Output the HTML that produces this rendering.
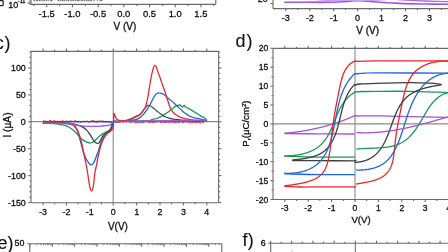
<!DOCTYPE html>
<html><head><meta charset="utf-8"><style>
html,body{margin:0;padding:0;background:#fff;}
body{width:448px;height:252px;overflow:hidden;}
svg{display:block;font-family:"Liberation Sans", sans-serif;will-change:transform;}
svg text{fill:#111;stroke:#111;stroke-width:0.3px;}
</style></head><body>
<svg width="448" height="252" viewBox="0 0 448 252">
<rect width="448" height="252" fill="#fff"/>
<line x1="30" y1="-2" x2="30" y2="4.4" stroke="#6a6a6a" stroke-width="1.1"/>
<line x1="215.8" y1="-2" x2="215.8" y2="4.4" stroke="#6a6a6a" stroke-width="1.1"/>
<line x1="30" y1="4.4" x2="215.8" y2="4.4" stroke="#6a6a6a" stroke-width="1.1"/>
<line x1="31.2" y1="-2" x2="31.2" y2="4.4" stroke="#777" stroke-width="0.9"/>
<rect x="33.4" y="0" width="1.72" height="1.2" fill="#7a7a7a"/>
<rect x="35.76" y="0" width="2.48" height="1.2" fill="#7a7a7a"/>
<rect x="38.82" y="0" width="1.81" height="1.2" fill="#7a7a7a"/>
<rect x="41.28" y="0" width="1.3" height="1.2" fill="#7a7a7a"/>
<rect x="43.19" y="0" width="2.01" height="1.2" fill="#7a7a7a"/>
<rect x="45.97" y="0" width="1.15" height="1.2" fill="#7a7a7a"/>
<rect x="47.6" y="0" width="1.15" height="1.2" fill="#7a7a7a"/>
<rect x="50" y="0" width="2.11" height="1.2" fill="#7a7a7a"/>
<rect x="52.43" y="0" width="0.57" height="1.2" fill="#7a7a7a"/>
<rect x="57.5" y="0" width="2.05" height="1.2" fill="#7a7a7a"/>
<rect x="60.22" y="0" width="1.25" height="1.2" fill="#7a7a7a"/>
<rect x="61.78" y="0" width="1.85" height="1.2" fill="#7a7a7a"/>
<rect x="63.96" y="0" width="1.3" height="1.2" fill="#7a7a7a"/>
<rect x="65.71" y="0" width="1.05" height="1.2" fill="#7a7a7a"/>
<rect x="67.33" y="0" width="1.7" height="1.2" fill="#7a7a7a"/>
<rect x="69.84" y="0" width="1.83" height="1.2" fill="#7a7a7a"/>
<rect x="72.36" y="0" width="1.8" height="1.2" fill="#7a7a7a"/>
<rect x="74.86" y="0" width="1.73" height="1.2" fill="#7a7a7a"/>
<rect x="77.05" y="0" width="2.6" height="1.2" fill="#7a7a7a"/>
<rect x="80.55" y="0" width="2.34" height="1.2" fill="#7a7a7a"/>
<rect x="83.62" y="0" width="1.5" height="1.2" fill="#7a7a7a"/>
<rect x="85.56" y="0" width="1.46" height="1.2" fill="#7a7a7a"/>
<rect x="87.36" y="0" width="2.23" height="1.2" fill="#7a7a7a"/>
<rect x="90.13" y="0" width="1.87" height="1.2" fill="#7a7a7a"/>
<rect x="93.2" y="0" width="1.4" height="1.2" fill="#7a7a7a"/>
<rect x="96.8" y="0" width="1" height="1.2" fill="#7a7a7a"/>
<rect x="99.5" y="0" width="2.46" height="1.2" fill="#7a7a7a"/>
<rect x="102.54" y="0" width="0.46" height="1.2" fill="#7a7a7a"/>
<line x1="46.75" y1="4.4" x2="46.75" y2="7.2" stroke="#6a6a6a" stroke-width="1.1"/>
<text x="46.65" y="16.9" font-size="9.4" text-anchor="middle">-1.5</text>
<line x1="72.45" y1="4.4" x2="72.45" y2="7.2" stroke="#6a6a6a" stroke-width="1.1"/>
<text x="72.35" y="16.9" font-size="9.4" text-anchor="middle">-1.0</text>
<line x1="98.15" y1="4.4" x2="98.15" y2="7.2" stroke="#6a6a6a" stroke-width="1.1"/>
<text x="98.05" y="16.9" font-size="9.4" text-anchor="middle">-0.5</text>
<line x1="123.85" y1="4.4" x2="123.85" y2="7.2" stroke="#6a6a6a" stroke-width="1.1"/>
<text x="123.75" y="16.9" font-size="9.4" text-anchor="middle">0.0</text>
<line x1="149.55" y1="4.4" x2="149.55" y2="7.2" stroke="#6a6a6a" stroke-width="1.1"/>
<text x="149.45" y="16.9" font-size="9.4" text-anchor="middle">0.5</text>
<line x1="175.25" y1="4.4" x2="175.25" y2="7.2" stroke="#6a6a6a" stroke-width="1.1"/>
<text x="175.15" y="16.9" font-size="9.4" text-anchor="middle">1.0</text>
<line x1="200.95" y1="4.4" x2="200.95" y2="7.2" stroke="#6a6a6a" stroke-width="1.1"/>
<text x="200.85" y="16.9" font-size="9.4" text-anchor="middle">1.5</text>
<line x1="33.9" y1="4.4" x2="33.9" y2="6" stroke="#6a6a6a" stroke-width="1.1"/>
<line x1="59.6" y1="4.4" x2="59.6" y2="6" stroke="#6a6a6a" stroke-width="1.1"/>
<line x1="85.3" y1="4.4" x2="85.3" y2="6" stroke="#6a6a6a" stroke-width="1.1"/>
<line x1="111" y1="4.4" x2="111" y2="6" stroke="#6a6a6a" stroke-width="1.1"/>
<line x1="136.7" y1="4.4" x2="136.7" y2="6" stroke="#6a6a6a" stroke-width="1.1"/>
<line x1="162.4" y1="4.4" x2="162.4" y2="6" stroke="#6a6a6a" stroke-width="1.1"/>
<line x1="188.1" y1="4.4" x2="188.1" y2="6" stroke="#6a6a6a" stroke-width="1.1"/>
<line x1="213.8" y1="4.4" x2="213.8" y2="6" stroke="#6a6a6a" stroke-width="1.1"/>
<line x1="27.5" y1="3" x2="30" y2="3" stroke="#6a6a6a" stroke-width="1.1"/>
<text x="8.2" y="7.5" font-size="9" text-anchor="start">10</text>
<text x="17.8" y="2.9" font-size="5.6" text-anchor="start">-11</text>
<text x="124.9" y="29.6" font-size="10" text-anchor="middle">V (V)</text>
<path d="M-1,0.55 H2.2 Q3.2,0.55 3.2,1.8 V4.4 Q3.2,5.7 2.2,5.7 H-1" fill="none" stroke="#222" stroke-width="1.25"/>
<line x1="273" y1="-2" x2="273" y2="8.6" stroke="#6a6a6a" stroke-width="1.1"/>
<line x1="273" y1="8.6" x2="450" y2="8.6" stroke="#6a6a6a" stroke-width="1.1"/>
<line x1="285.75" y1="8.6" x2="285.75" y2="11.2" stroke="#6a6a6a" stroke-width="1.1"/>
<text x="285.75" y="20.9" font-size="9" text-anchor="middle">-3</text>
<line x1="309.7" y1="8.6" x2="309.7" y2="11.2" stroke="#6a6a6a" stroke-width="1.1"/>
<text x="309.7" y="20.9" font-size="9" text-anchor="middle">-2</text>
<line x1="333.65" y1="8.6" x2="333.65" y2="11.2" stroke="#6a6a6a" stroke-width="1.1"/>
<text x="333.65" y="20.9" font-size="9" text-anchor="middle">-1</text>
<line x1="357.6" y1="8.6" x2="357.6" y2="11.2" stroke="#6a6a6a" stroke-width="1.1"/>
<text x="357.6" y="20.9" font-size="9" text-anchor="middle">0</text>
<line x1="381.55" y1="8.6" x2="381.55" y2="11.2" stroke="#6a6a6a" stroke-width="1.1"/>
<text x="381.55" y="20.9" font-size="9" text-anchor="middle">1</text>
<line x1="405.5" y1="8.6" x2="405.5" y2="11.2" stroke="#6a6a6a" stroke-width="1.1"/>
<text x="405.5" y="20.9" font-size="9" text-anchor="middle">2</text>
<line x1="429.45" y1="8.6" x2="429.45" y2="11.2" stroke="#6a6a6a" stroke-width="1.1"/>
<text x="429.45" y="20.9" font-size="9" text-anchor="middle">3</text>
<line x1="297.72" y1="8.6" x2="297.72" y2="10.1" stroke="#6a6a6a" stroke-width="1.1"/>
<line x1="321.67" y1="8.6" x2="321.67" y2="10.1" stroke="#6a6a6a" stroke-width="1.1"/>
<line x1="345.62" y1="8.6" x2="345.62" y2="10.1" stroke="#6a6a6a" stroke-width="1.1"/>
<line x1="369.57" y1="8.6" x2="369.57" y2="10.1" stroke="#6a6a6a" stroke-width="1.1"/>
<line x1="393.52" y1="8.6" x2="393.52" y2="10.1" stroke="#6a6a6a" stroke-width="1.1"/>
<line x1="417.47" y1="8.6" x2="417.47" y2="10.1" stroke="#6a6a6a" stroke-width="1.1"/>
<line x1="441.42" y1="8.6" x2="441.42" y2="10.1" stroke="#6a6a6a" stroke-width="1.1"/>
<line x1="270.4" y1="3.6" x2="273" y2="3.6" stroke="#6a6a6a" stroke-width="1.1"/>
<text x="267.8" y="1.9" font-size="9" text-anchor="end">20</text>
<text x="367.7" y="34.4" font-size="10" text-anchor="middle">V (V)</text>
<path d="M284.8,2.3 C288.17,2.3 299.13,2.28 305,2.3 C310.87,2.32 315.83,2.4 320,2.4 C324.17,2.4 326.67,2.4 330,2.3 C333.33,2.2 336.67,1.98 340,1.8 C343.33,1.62 347.17,1.37 350,1.2 C352.83,1.03 354.67,0.85 357,0.8 C359.33,0.75 361.5,0.77 364,0.9 C366.5,1.03 369.33,1.38 372,1.6 C374.67,1.82 376.67,1.97 380,2.2 C383.33,2.43 388,2.77 392,3 C396,3.23 398.5,3.43 404,3.6 C409.5,3.77 417.5,3.88 425,4 C432.5,4.12 445,4.25 449,4.3" fill="none" stroke="#a055dd" stroke-width="1.6" stroke-linejoin="round" stroke-linecap="round"/>
<path d="M308,1.9 C310,1.78 316.33,1.4 320,1.2 C323.67,1 326.67,0.87 330,0.7 C333.33,0.53 336.67,0.38 340,0.2 C343.33,0.02 348.33,-0.3 350,-0.4" fill="none" stroke="#b888e6" stroke-width="1.2" stroke-linejoin="round" stroke-linecap="round"/>
<path d="M398,-0.5 C400.33,-0.37 407.5,0.05 412,0.3 C416.5,0.55 418.83,0.78 425,1 C431.17,1.22 445,1.5 449,1.6" fill="none" stroke="#a868e0" stroke-width="1.3" stroke-linejoin="round" stroke-linecap="round"/>
<path d="M330,0.8 C332.5,0.73 340.5,0.5 345,0.4 C349.5,0.3 352.83,0.22 357,0.2 C361.17,0.18 365.33,0.37 370,0.3 C374.67,0.23 382.5,-0.12 385,-0.2" fill="none" stroke="#c9a3ee" stroke-width="1.4" stroke-linejoin="round" stroke-linecap="round"/>
<line x1="31" y1="121.6" x2="218.6" y2="121.6" stroke="#8a8a8a" stroke-width="1.1"/>
<line x1="113.2" y1="51.4" x2="113.2" y2="202.7" stroke="#8a8a8a" stroke-width="1.1"/>
<path d="M43.3,120.78 L44.6,121.27 L45.9,120.99 L47.2,121.37 L48.5,121.4 L49.8,120.5 L51.1,120.42 L52.4,121.74 L53.7,120.81 L55,120.77 L56.3,121.99 L57.6,121.15 L58.9,121.74 L60.2,121.16 L61.5,121.42 L62.8,120.64 L64.1,121.42 L65.4,121.79 L66.7,121.24 L68,121.59 L69.3,121.47 L70.6,120.5 L71.9,121.61 L73.2,121.35 L74.5,120.88 L75.8,120.45 L77.1,121.78 L78.4,121.16 L79.7,121.55 L81,121.81 L82.3,121.54 L83.6,121.87 L84.9,121.03 L86.2,121.68 L87.5,121.11 L88.8,121.9 L90.1,121.81 L91.4,120.56 L92.7,120.62 L94,120.75 L95.3,121.94 L96.6,121.1 L97.9,121.4 L99.2,120.88 L100.5,121.21 L101.8,121.02 L103.1,120.96 L104.4,121.34 L105.7,121.33 L107,121.85 L108.3,121.49 L109.6,121.89 L110.9,121.77 L112.2,121.99" fill="none" stroke="#e8262f" stroke-width="0.9" stroke-linejoin="round" stroke-linecap="round"/>
<path d="M43.3,122.17 L44.6,121.66 L45.9,122.36 L47.2,122.46 L48.5,122.4 L49.8,122.07 L51.1,122.21 L52.4,121.71 L53.7,122.33 L55,122.07 L56.3,121.78 L57.6,121.56 L58.9,122.35 L60.2,122.49 L61.5,121.59 L62.8,122.3 L64.1,121.91 L65.4,121.65 L66.7,121.79 L68,122.27 L69.3,122.37 L70.6,121.54 L71.9,122.11 L73.2,121.54 L74.5,122.22 L75.8,121.83 L77.1,122.38 L78.4,122.48 L79.7,122.01 L81,122.5 L82.3,121.81 L83.6,121.58 L84.9,122.1 L86.2,121.53 L87.5,121.7 L88.8,121.91 L90.1,122.11 L91.4,121.66 L92.7,121.54 L94,122.37 L95.3,121.81 L96.6,122.46 L97.9,122.4 L99.2,121.88 L100.5,121.96 L101.8,122.02 L103.1,122.14 L104.4,122.1 L105.7,122.06 L107,122.12 L108.3,122.44 L109.6,122.01 L110.9,121.93 L112.2,122.22" fill="none" stroke="#1f66dd" stroke-width="0.8" stroke-linejoin="round" stroke-linecap="round"/>
<path d="M43.3,121.34 L44.6,121.4 L45.9,122.08 L47.2,121.62 L48.5,121.65 L49.8,121.11 L51.1,121.52 L52.4,121.68 L53.7,121.12 L55,121.72 L56.3,121.73 L57.6,121.16 L58.9,121.73 L60.2,121.57 L61.5,121.78 L62.8,121.45 L64.1,121.81 L65.4,121.84 L66.7,121.12 L68,121.16 L69.3,121.78 L70.6,122.06 L71.9,121.35 L73.2,121.56 L74.5,121.69 L75.8,121.42 L77.1,121.46 L78.4,121.41 L79.7,121.47 L81,121.7 L82.3,121.4 L83.6,121.48 L84.9,121.87 L86.2,121.13 L87.5,121.67 L88.8,121.84 L90.1,121.41 L91.4,121.32 L92.7,121.9 L94,121.34 L95.3,121.29 L96.6,121.54 L97.9,121.8 L99.2,121.2 L100.5,121.42 L101.8,121.43 L103.1,121.93 L104.4,121.54 L105.7,121.96 L107,121.27 L108.3,121.44 L109.6,121.75 L110.9,121.98 L112.2,121.55" fill="none" stroke="#3d3d3d" stroke-width="0.7" stroke-linejoin="round" stroke-linecap="round"/>
<path d="M43.3,123.2 C45.25,123.25 52.22,123.28 55,123.5 C57.78,123.72 58.37,124.18 60,124.5 C61.63,124.82 63.22,124.9 64.8,125.4 C66.38,125.9 68.12,126.75 69.5,127.5 C70.88,128.25 71.9,128.9 73.1,129.9 C74.3,130.9 75.52,132.22 76.7,133.5 C77.88,134.78 79.02,136.42 80.2,137.6 C81.38,138.78 82.6,139.8 83.8,140.6 C85,141.4 86.22,142.02 87.4,142.4 C88.58,142.78 89.97,142.98 90.9,142.9 C91.83,142.82 92.3,142.32 93,141.9 C93.7,141.48 94.38,141 95.1,140.4 C95.82,139.8 96.58,138.98 97.3,138.3 C98.02,137.62 98.57,137 99.4,136.3 C100.23,135.6 101.35,134.7 102.3,134.1 C103.25,133.5 104.15,133.17 105.1,132.7 C106.05,132.23 107.13,131.75 108,131.3 C108.87,130.85 109.63,130.97 110.3,130 C110.97,129.03 111.55,126.83 112,125.5 C112.45,124.17 112.83,122.58 113,122" fill="none" stroke="#1a9a55" stroke-width="1.3" stroke-linejoin="round" stroke-linecap="round"/>
<path d="M43.3,123.2 C46.92,123.2 60.22,123.13 65,123.2 C69.78,123.27 70.25,123.38 72,123.6 C73.75,123.82 73.93,124.05 75.5,124.5 C77.07,124.95 79.62,125.45 81.4,126.3 C83.18,127.15 84.8,128.28 86.2,129.6 C87.6,130.92 88.72,132.63 89.8,134.2 C90.88,135.77 91.82,137.65 92.7,139 C93.58,140.35 94.33,141.58 95.1,142.3 C95.87,143.02 96.58,143.25 97.3,143.3 C98.02,143.35 98.8,143.22 99.4,142.6 C100,141.98 100.22,140.78 100.9,139.6 C101.58,138.42 102.57,136.68 103.5,135.5 C104.43,134.32 105.5,133.38 106.5,132.5 C107.5,131.62 108.67,131.12 109.5,130.2 C110.33,129.28 110.92,128.37 111.5,127 C112.08,125.63 112.75,122.83 113,122" fill="none" stroke="#3d3d3d" stroke-width="1.3" stroke-linejoin="round" stroke-linecap="round"/>
<path d="M43.3,123.2 C47.08,123.2 61.23,123.07 66,123.2 C70.77,123.33 70.32,123.38 71.9,124 C73.48,124.62 74.5,125.52 75.5,126.9 C76.5,128.28 77.22,130.42 77.9,132.3 C78.58,134.18 79.02,136.12 79.6,138.2 C80.18,140.28 80.8,142.58 81.4,144.8 C82,147.02 82.52,149.38 83.2,151.5 C83.88,153.62 84.7,155.78 85.5,157.5 C86.3,159.22 87.25,160.68 88,161.8 C88.75,162.92 89.45,163.7 90,164.2 C90.55,164.7 90.8,164.87 91.3,164.8 C91.8,164.73 92.38,164.6 93,163.8 C93.62,163 94.33,161.55 95,160 C95.67,158.45 96.38,156.17 97,154.5 C97.62,152.83 98.18,151.6 98.7,150 C99.22,148.4 99.5,146.58 100.1,144.9 C100.7,143.22 101.58,141.45 102.3,139.9 C103.02,138.35 103.68,136.68 104.4,135.6 C105.12,134.52 105.55,134.23 106.6,133.4 C107.65,132.57 109.72,131.83 110.7,130.6 C111.68,129.37 112.07,127.43 112.5,126 C112.93,124.57 113.17,122.67 113.3,122" fill="none" stroke="#1f66dd" stroke-width="1.3" stroke-linejoin="round" stroke-linecap="round"/>
<path d="M43.3,123.2 C46.08,123.15 55.63,122.77 60,122.9 C64.37,123.03 67.32,123.63 69.5,124 C71.68,124.37 72.1,124.52 73.1,125.1 C74.1,125.68 74.7,126.5 75.5,127.5 C76.3,128.5 77.22,129.7 77.9,131.1 C78.58,132.5 79.02,134.12 79.6,135.9 C80.18,137.68 80.87,139.7 81.4,141.8 C81.93,143.9 82.28,146.05 82.8,148.5 C83.32,150.95 83.93,153.75 84.5,156.5 C85.07,159.25 85.68,162.25 86.2,165 C86.72,167.75 87.15,170.25 87.6,173 C88.05,175.75 88.48,178.95 88.9,181.5 C89.32,184.05 89.7,186.75 90.1,188.3 C90.5,189.85 90.92,190.55 91.3,190.8 C91.68,191.05 92.08,190.43 92.4,189.8 C92.72,189.17 92.95,188.3 93.2,187 C93.45,185.7 93.7,183.75 93.9,182 C94.1,180.25 94.23,178.08 94.4,176.5 C94.57,174.92 94.67,173.83 94.9,172.5 C95.13,171.17 95.47,170 95.8,168.5 C96.13,167 96.6,165.08 96.9,163.5 C97.2,161.92 97.17,161.17 97.6,159 C98.03,156.83 98.88,153 99.5,150.5 C100.12,148 100.55,146.12 101.3,144 C102.05,141.88 102.88,139.67 104,137.8 C105.12,135.93 106.68,134.07 108,132.8 C109.32,131.53 110.95,131.57 111.9,130.2 C112.85,128.83 113.4,125.53 113.7,124.6" fill="none" stroke="#e8262f" stroke-width="1.3" stroke-linejoin="round" stroke-linecap="round"/>
<path d="M43.3,123.3 C46.08,123.33 55.55,123.42 60,123.5 C64.45,123.58 67.42,123.53 70,123.8 C72.58,124.07 73.2,124.72 75.5,125.1 C77.8,125.48 80.83,125.9 83.8,126.1 C86.77,126.3 90.6,126.3 93.3,126.3 C96,126.3 98.05,126.2 100,126.1 C101.95,126 103.42,125.85 105,125.7 C106.58,125.55 108.42,125.57 109.5,125.2 C110.58,124.83 110.95,124.1 111.5,123.5 C112.05,122.9 112.58,121.92 112.8,121.6" fill="none" stroke="#a055dd" stroke-width="1.3" stroke-linejoin="round" stroke-linecap="round"/>
<path d="M114,122.08 L115.3,121.77 L116.6,122.67 L117.9,121.63 L119.2,122.46 L120.5,122.16 L121.8,121.6 L123.1,122.41 L124.4,121.57 L125.7,122.28 L127,121.63 L128.3,121.66 L129.6,122.26 L130.9,122.99 L132.2,121.72 L133.5,121.9 L134.8,122.63 L136.1,123.21 L137.4,122.54 L138.7,122.21 L140,123.26 L141.3,121.58 L142.6,123.05 L143.9,122.02 L145.2,121.76 L146.5,121.71 L147.8,122.06 L149.1,122.97 L150.4,121.83 L151.7,122.55 L153,122.65 L154.3,122.17 L155.6,122.49 L156.9,121.61 L158.2,121.61 L159.5,121.87 L160.8,122.72 L162.1,122.27 L163.4,122.07 L164.7,122.55 L166,122.32 L167.3,122.04 L168.6,122.93 L169.9,122.76 L171.2,121.94 L172.5,122.53 L173.8,122.45 L175.1,123.08 L176.4,122.81 L177.7,122.02 L179,123.26 L180.3,121.71 L181.6,122.25 L182.9,122.86 L184.2,121.77 L185.5,122.38 L186.8,121.57 L188.1,122.7 L189.4,122.88 L190.7,122.53 L192,123.08 L193.3,122.06 L194.6,122.75 L195.9,122.57 L197.2,122.54 L198.5,122.32 L199.8,123.01 L201.1,123.2 L202.4,122.35 L203.7,122.7" fill="none" stroke="#e8262f" stroke-width="0.9" stroke-linejoin="round" stroke-linecap="round"/>
<path d="M114,121.07 L115.3,121.84 L116.6,121.78 L117.9,122.19 L119.2,121.99 L120.5,121.34 L121.8,121.46 L123.1,121.8 L124.4,121.03 L125.7,121.55 L127,121.2 L128.3,121.14 L129.6,121.07 L130.9,121.92 L132.2,121.16 L133.5,121.3 L134.8,121.47 L136.1,122.05 L137.4,121.1 L138.7,121.54 L140,121.66 L141.3,122.06 L142.6,121.98 L143.9,122.04 L145.2,121.33 L146.5,121.5 L147.8,121.43 L149.1,122.06 L150.4,122.15 L151.7,121.18 L153,121.21 L154.3,121.28 L155.6,121.28 L156.9,121.58 L158.2,121.71 L159.5,121.32 L160.8,121 L162.1,121.5 L163.4,121.44 L164.7,121.68 L166,122.14 L167.3,121.83 L168.6,121.62 L169.9,121.74 L171.2,121.81 L172.5,121.06 L173.8,122.08 L175.1,121.94 L176.4,122.05 L177.7,121.96 L179,121.47 L180.3,121.48 L181.6,121.12 L182.9,121.76 L184.2,121.07 L185.5,121.08 L186.8,121.25 L188.1,121.19 L189.4,121.41 L190.7,121.06 L192,121 L193.3,121.18 L194.6,121.12 L195.9,121.44 L197.2,121.03 L198.5,122.05 L199.8,121.74 L201.1,121.18 L202.4,121.3 L203.7,121.42" fill="none" stroke="#1f66dd" stroke-width="0.8" stroke-linejoin="round" stroke-linecap="round"/>
<path d="M114,121.26 L115.3,121.02 L116.6,121.75 L117.9,121.89 L119.2,121.37 L120.5,121.38 L121.8,120.99 L123.1,121 L124.4,121.24 L125.7,121.16 L127,121.73 L128.3,121.06 L129.6,120.92 L130.9,121.85 L132.2,121.43 L133.5,121.05 L134.8,121.44 L136.1,120.93 L137.4,121.43 L138.7,121.88 L140,121.76 L141.3,121.6 L142.6,121.16 L143.9,121.27 L145.2,121.07 L146.5,121.67 L147.8,121.43 L149.1,121.68" fill="none" stroke="#1a9a55" stroke-width="0.8" stroke-linejoin="round" stroke-linecap="round"/>
<path d="M114,120.83 L115.3,120.72 L116.6,121.31 L117.9,121.48 L119.2,121.35 L120.5,121.31 L121.8,121.32 L123.1,121.24 L124.4,120.73 L125.7,121.02 L127,120.86 L128.3,120.53 L129.6,120.53 L130.9,120.78 L132.2,120.76 L133.5,121.19 L134.8,121.46 L136.1,120.95 L137.4,121.44 L138.7,121.49 L140,121.46 L141.3,120.86 L142.6,120.72 L143.9,120.73 L145.2,120.7 L146.5,120.7 L147.8,121.12 L149.1,121.4 L150.4,121.34 L151.7,120.98 L153,121.15 L154.3,121.3 L155.6,120.58 L156.9,121.16 L158.2,121.41 L159.5,121.28 L160.8,121.25 L162.1,120.98 L163.4,120.68 L164.7,121.29 L166,120.83 L167.3,121.3 L168.6,121.47 L169.9,120.9 L171.2,120.9 L172.5,121.45 L173.8,121.22 L175.1,120.67 L176.4,120.63 L177.7,120.65 L179,121.4 L180.3,121.31 L181.6,120.65 L182.9,121.33 L184.2,121.48 L185.5,121.16 L186.8,120.85 L188.1,121.05 L189.4,120.63 L190.7,120.51 L192,121.47 L193.3,121.15 L194.6,121.03 L195.9,121.43 L197.2,120.93 L198.5,121.37 L199.8,121.33 L201.1,120.71 L202.4,120.75 L203.7,120.79" fill="none" stroke="#3d3d3d" stroke-width="0.7" stroke-linejoin="round" stroke-linecap="round"/>
<path d="M113.6,122 L114.5,121.4 L130,121.2 L148,120.8 L150.8,120.2 L153.4,119.1 L156.5,118.6 L159.1,117.6 L162.7,115.5 L166.8,112.9 L170.9,109.9 L174,107.4 L176.1,106 L180.2,105 L182.3,107.1 L184.2,105.2 L185.9,107.5 L188,108.1 L192.6,110.9 L197.8,114 L201.9,116.6 L204.5,117.6 L206,119.1 L206.8,121.3" fill="none" stroke="#1a9a55" stroke-width="1.3" stroke-linejoin="round" stroke-linecap="round"/>
<path d="M113.6,121.8 C115.5,121.63 121.92,121.4 125,120.8 C128.08,120.2 130.27,118.97 132.1,118.2 C133.93,117.43 134.68,116.82 136,116.2 C137.32,115.58 138.82,115.47 140,114.5 C141.18,113.53 142.07,111.68 143.1,110.4 C144.13,109.12 145.25,107.65 146.2,106.8 C147.15,105.95 147.77,105.22 148.8,105.3 C149.83,105.38 151.28,106.53 152.4,107.3 C153.52,108.07 154.47,109.05 155.5,109.9 C156.53,110.75 157.58,111.63 158.6,112.4 C159.62,113.17 160.58,113.8 161.6,114.5 C162.62,115.2 163.48,116 164.7,116.6 C165.92,117.2 167.52,117.68 168.9,118.1 C170.28,118.52 171.82,118.88 173,119.1 C174.18,119.32 174,119.18 176,119.4 C178,119.62 180.17,120.17 185,120.4 C189.83,120.63 201.67,120.73 205,120.8" fill="none" stroke="#3d3d3d" stroke-width="1.1" stroke-linejoin="round" stroke-linecap="round"/>
<path d="M113.6,121.6 C115.5,121.53 121.52,121.47 125,121.2 C128.48,120.93 132,120.6 134.5,120 C137,119.4 138.4,118.68 140,117.6 C141.6,116.52 142.9,114.88 144.1,113.5 C145.3,112.12 146.17,110.85 147.2,109.3 C148.23,107.75 149.27,106.08 150.3,104.2 C151.33,102.32 152.53,99.6 153.4,98 C154.27,96.4 154.77,95.45 155.5,94.6 C156.23,93.75 156.88,93.12 157.8,92.9 C158.72,92.68 159.97,93.03 161,93.3 C162.03,93.57 162.87,93.72 164,94.5 C165.13,95.28 166.47,96.88 167.8,98 C169.13,99.12 170.8,100.2 172,101.2 C173.2,102.2 173.97,103.02 175,104 C176.03,104.98 176.98,105.95 178.2,107.1 C179.42,108.25 181.1,109.83 182.3,110.9 C183.5,111.97 184.2,112.65 185.4,113.5 C186.6,114.35 188.13,115.32 189.5,116 C190.87,116.68 192.22,117.2 193.6,117.6 C194.98,118 196.25,118.07 197.8,118.4 C199.35,118.73 201.53,119.3 202.9,119.6 C204.27,119.9 205.48,120.1 206,120.2" fill="none" stroke="#1f66dd" stroke-width="1.3" stroke-linejoin="round" stroke-linecap="round"/>
<path d="M113.7,121.5 C113.72,120.17 113.55,114.33 113.8,113.5 C114.05,112.67 114.75,115.62 115.2,116.5 C115.65,117.38 115.87,118.17 116.5,118.8 C117.13,119.43 117.58,120 119,120.3 C120.42,120.6 123,120.75 125,120.6 C127,120.45 129.22,120 131,119.4 C132.78,118.8 134.2,117.82 135.7,117 C137.2,116.18 138.77,115.52 140,114.5 C141.23,113.48 142.15,112.28 143.1,110.9 C144.05,109.52 144.93,108.35 145.7,106.2 C146.47,104.05 147.02,101.53 147.7,98 C148.38,94.47 149.22,88.5 149.8,85 C150.38,81.5 150.78,79.18 151.2,77 C151.62,74.82 151.9,73.52 152.3,71.9 C152.7,70.28 153.17,68.38 153.6,67.3 C154.03,66.22 154.45,65.45 154.9,65.4 C155.35,65.35 155.8,65.92 156.3,67 C156.8,68.08 157.28,70.15 157.9,71.9 C158.52,73.65 159.23,75.32 160,77.5 C160.77,79.68 161.77,82.92 162.5,85 C163.23,87.08 163.73,88.08 164.4,90 C165.07,91.92 165.75,94.13 166.5,96.5 C167.25,98.87 168.17,102.07 168.9,104.2 C169.63,106.33 170.05,107.8 170.9,109.3 C171.75,110.8 172.95,112.17 174,113.2 C175.05,114.23 176.17,114.85 177.2,115.5 C178.23,116.15 179.18,116.67 180.2,117.1 C181.22,117.53 182.08,117.77 183.3,118.1 C184.52,118.43 185.55,118.75 187.5,119.1 C189.45,119.45 192.08,119.92 195,120.2 C197.92,120.48 203.33,120.7 205,120.8" fill="none" stroke="#e8262f" stroke-width="1.3" stroke-linejoin="round" stroke-linecap="round"/>
<path d="M114,121.3 C120,121.25 134.83,121.15 150,121 C165.17,120.85 195.83,120.5 205,120.4" fill="none" stroke="#a055dd" stroke-width="1.3" stroke-linejoin="round" stroke-linecap="round"/>
<line x1="31" y1="51.4" x2="218.6" y2="51.4" stroke="#6a6a6a" stroke-width="1.1"/>
<line x1="31" y1="202.7" x2="218.6" y2="202.7" stroke="#6a6a6a" stroke-width="1.1"/>
<line x1="31" y1="51.4" x2="31" y2="202.7" stroke="#6a6a6a" stroke-width="1.1"/>
<line x1="218.6" y1="51.4" x2="218.6" y2="202.7" stroke="#6a6a6a" stroke-width="1.1"/>
<line x1="43" y1="202.7" x2="43" y2="205.5" stroke="#6a6a6a" stroke-width="1.1"/>
<line x1="43" y1="51.4" x2="43" y2="48.6" stroke="#6a6a6a" stroke-width="1.1"/>
<text x="43" y="215.4" font-size="8.9" text-anchor="middle">-3</text>
<line x1="66.4" y1="202.7" x2="66.4" y2="205.5" stroke="#6a6a6a" stroke-width="1.1"/>
<line x1="66.4" y1="51.4" x2="66.4" y2="48.6" stroke="#6a6a6a" stroke-width="1.1"/>
<text x="66.4" y="215.4" font-size="8.9" text-anchor="middle">-2</text>
<line x1="89.8" y1="202.7" x2="89.8" y2="205.5" stroke="#6a6a6a" stroke-width="1.1"/>
<line x1="89.8" y1="51.4" x2="89.8" y2="48.6" stroke="#6a6a6a" stroke-width="1.1"/>
<text x="89.8" y="215.4" font-size="8.9" text-anchor="middle">-1</text>
<line x1="113.2" y1="202.7" x2="113.2" y2="205.5" stroke="#6a6a6a" stroke-width="1.1"/>
<line x1="113.2" y1="51.4" x2="113.2" y2="48.6" stroke="#6a6a6a" stroke-width="1.1"/>
<text x="113.2" y="215.4" font-size="8.9" text-anchor="middle">0</text>
<line x1="136.6" y1="202.7" x2="136.6" y2="205.5" stroke="#6a6a6a" stroke-width="1.1"/>
<line x1="136.6" y1="51.4" x2="136.6" y2="48.6" stroke="#6a6a6a" stroke-width="1.1"/>
<text x="136.6" y="215.4" font-size="8.9" text-anchor="middle">1</text>
<line x1="160" y1="202.7" x2="160" y2="205.5" stroke="#6a6a6a" stroke-width="1.1"/>
<line x1="160" y1="51.4" x2="160" y2="48.6" stroke="#6a6a6a" stroke-width="1.1"/>
<text x="160" y="215.4" font-size="8.9" text-anchor="middle">2</text>
<line x1="183.4" y1="202.7" x2="183.4" y2="205.5" stroke="#6a6a6a" stroke-width="1.1"/>
<line x1="183.4" y1="51.4" x2="183.4" y2="48.6" stroke="#6a6a6a" stroke-width="1.1"/>
<text x="183.4" y="215.4" font-size="8.9" text-anchor="middle">3</text>
<line x1="206.8" y1="202.7" x2="206.8" y2="205.5" stroke="#6a6a6a" stroke-width="1.1"/>
<line x1="206.8" y1="51.4" x2="206.8" y2="48.6" stroke="#6a6a6a" stroke-width="1.1"/>
<text x="206.8" y="215.4" font-size="8.9" text-anchor="middle">4</text>
<line x1="54.7" y1="202.7" x2="54.7" y2="204.3" stroke="#6a6a6a" stroke-width="1.1"/>
<line x1="54.7" y1="51.4" x2="54.7" y2="49.8" stroke="#6a6a6a" stroke-width="1.1"/>
<line x1="78.1" y1="202.7" x2="78.1" y2="204.3" stroke="#6a6a6a" stroke-width="1.1"/>
<line x1="78.1" y1="51.4" x2="78.1" y2="49.8" stroke="#6a6a6a" stroke-width="1.1"/>
<line x1="101.5" y1="202.7" x2="101.5" y2="204.3" stroke="#6a6a6a" stroke-width="1.1"/>
<line x1="101.5" y1="51.4" x2="101.5" y2="49.8" stroke="#6a6a6a" stroke-width="1.1"/>
<line x1="124.9" y1="202.7" x2="124.9" y2="204.3" stroke="#6a6a6a" stroke-width="1.1"/>
<line x1="124.9" y1="51.4" x2="124.9" y2="49.8" stroke="#6a6a6a" stroke-width="1.1"/>
<line x1="148.3" y1="202.7" x2="148.3" y2="204.3" stroke="#6a6a6a" stroke-width="1.1"/>
<line x1="148.3" y1="51.4" x2="148.3" y2="49.8" stroke="#6a6a6a" stroke-width="1.1"/>
<line x1="171.7" y1="202.7" x2="171.7" y2="204.3" stroke="#6a6a6a" stroke-width="1.1"/>
<line x1="171.7" y1="51.4" x2="171.7" y2="49.8" stroke="#6a6a6a" stroke-width="1.1"/>
<line x1="195.1" y1="202.7" x2="195.1" y2="204.3" stroke="#6a6a6a" stroke-width="1.1"/>
<line x1="195.1" y1="51.4" x2="195.1" y2="49.8" stroke="#6a6a6a" stroke-width="1.1"/>
<line x1="28.2" y1="202.5" x2="31" y2="202.5" stroke="#6a6a6a" stroke-width="1.1"/>
<line x1="218.6" y1="202.5" x2="221.4" y2="202.5" stroke="#6a6a6a" stroke-width="1.1"/>
<line x1="29.4" y1="197.12" x2="31" y2="197.12" stroke="#6a6a6a" stroke-width="1.1"/>
<line x1="218.6" y1="197.12" x2="220.2" y2="197.12" stroke="#6a6a6a" stroke-width="1.1"/>
<line x1="29.4" y1="191.74" x2="31" y2="191.74" stroke="#6a6a6a" stroke-width="1.1"/>
<line x1="218.6" y1="191.74" x2="220.2" y2="191.74" stroke="#6a6a6a" stroke-width="1.1"/>
<line x1="29.4" y1="186.36" x2="31" y2="186.36" stroke="#6a6a6a" stroke-width="1.1"/>
<line x1="218.6" y1="186.36" x2="220.2" y2="186.36" stroke="#6a6a6a" stroke-width="1.1"/>
<line x1="29.4" y1="180.98" x2="31" y2="180.98" stroke="#6a6a6a" stroke-width="1.1"/>
<line x1="218.6" y1="180.98" x2="220.2" y2="180.98" stroke="#6a6a6a" stroke-width="1.1"/>
<line x1="28.2" y1="175.6" x2="31" y2="175.6" stroke="#6a6a6a" stroke-width="1.1"/>
<line x1="218.6" y1="175.6" x2="221.4" y2="175.6" stroke="#6a6a6a" stroke-width="1.1"/>
<line x1="29.4" y1="170.22" x2="31" y2="170.22" stroke="#6a6a6a" stroke-width="1.1"/>
<line x1="218.6" y1="170.22" x2="220.2" y2="170.22" stroke="#6a6a6a" stroke-width="1.1"/>
<line x1="29.4" y1="164.84" x2="31" y2="164.84" stroke="#6a6a6a" stroke-width="1.1"/>
<line x1="218.6" y1="164.84" x2="220.2" y2="164.84" stroke="#6a6a6a" stroke-width="1.1"/>
<line x1="29.4" y1="159.46" x2="31" y2="159.46" stroke="#6a6a6a" stroke-width="1.1"/>
<line x1="218.6" y1="159.46" x2="220.2" y2="159.46" stroke="#6a6a6a" stroke-width="1.1"/>
<line x1="29.4" y1="154.08" x2="31" y2="154.08" stroke="#6a6a6a" stroke-width="1.1"/>
<line x1="218.6" y1="154.08" x2="220.2" y2="154.08" stroke="#6a6a6a" stroke-width="1.1"/>
<line x1="28.2" y1="148.7" x2="31" y2="148.7" stroke="#6a6a6a" stroke-width="1.1"/>
<line x1="218.6" y1="148.7" x2="221.4" y2="148.7" stroke="#6a6a6a" stroke-width="1.1"/>
<line x1="29.4" y1="143.32" x2="31" y2="143.32" stroke="#6a6a6a" stroke-width="1.1"/>
<line x1="218.6" y1="143.32" x2="220.2" y2="143.32" stroke="#6a6a6a" stroke-width="1.1"/>
<line x1="29.4" y1="137.94" x2="31" y2="137.94" stroke="#6a6a6a" stroke-width="1.1"/>
<line x1="218.6" y1="137.94" x2="220.2" y2="137.94" stroke="#6a6a6a" stroke-width="1.1"/>
<line x1="29.4" y1="132.56" x2="31" y2="132.56" stroke="#6a6a6a" stroke-width="1.1"/>
<line x1="218.6" y1="132.56" x2="220.2" y2="132.56" stroke="#6a6a6a" stroke-width="1.1"/>
<line x1="29.4" y1="127.18" x2="31" y2="127.18" stroke="#6a6a6a" stroke-width="1.1"/>
<line x1="218.6" y1="127.18" x2="220.2" y2="127.18" stroke="#6a6a6a" stroke-width="1.1"/>
<line x1="28.2" y1="121.8" x2="31" y2="121.8" stroke="#6a6a6a" stroke-width="1.1"/>
<line x1="218.6" y1="121.8" x2="221.4" y2="121.8" stroke="#6a6a6a" stroke-width="1.1"/>
<line x1="29.4" y1="116.42" x2="31" y2="116.42" stroke="#6a6a6a" stroke-width="1.1"/>
<line x1="218.6" y1="116.42" x2="220.2" y2="116.42" stroke="#6a6a6a" stroke-width="1.1"/>
<line x1="29.4" y1="111.04" x2="31" y2="111.04" stroke="#6a6a6a" stroke-width="1.1"/>
<line x1="218.6" y1="111.04" x2="220.2" y2="111.04" stroke="#6a6a6a" stroke-width="1.1"/>
<line x1="29.4" y1="105.66" x2="31" y2="105.66" stroke="#6a6a6a" stroke-width="1.1"/>
<line x1="218.6" y1="105.66" x2="220.2" y2="105.66" stroke="#6a6a6a" stroke-width="1.1"/>
<line x1="29.4" y1="100.28" x2="31" y2="100.28" stroke="#6a6a6a" stroke-width="1.1"/>
<line x1="218.6" y1="100.28" x2="220.2" y2="100.28" stroke="#6a6a6a" stroke-width="1.1"/>
<line x1="28.2" y1="94.9" x2="31" y2="94.9" stroke="#6a6a6a" stroke-width="1.1"/>
<line x1="218.6" y1="94.9" x2="221.4" y2="94.9" stroke="#6a6a6a" stroke-width="1.1"/>
<line x1="29.4" y1="89.52" x2="31" y2="89.52" stroke="#6a6a6a" stroke-width="1.1"/>
<line x1="218.6" y1="89.52" x2="220.2" y2="89.52" stroke="#6a6a6a" stroke-width="1.1"/>
<line x1="29.4" y1="84.14" x2="31" y2="84.14" stroke="#6a6a6a" stroke-width="1.1"/>
<line x1="218.6" y1="84.14" x2="220.2" y2="84.14" stroke="#6a6a6a" stroke-width="1.1"/>
<line x1="29.4" y1="78.76" x2="31" y2="78.76" stroke="#6a6a6a" stroke-width="1.1"/>
<line x1="218.6" y1="78.76" x2="220.2" y2="78.76" stroke="#6a6a6a" stroke-width="1.1"/>
<line x1="29.4" y1="73.38" x2="31" y2="73.38" stroke="#6a6a6a" stroke-width="1.1"/>
<line x1="218.6" y1="73.38" x2="220.2" y2="73.38" stroke="#6a6a6a" stroke-width="1.1"/>
<line x1="28.2" y1="68" x2="31" y2="68" stroke="#6a6a6a" stroke-width="1.1"/>
<line x1="218.6" y1="68" x2="221.4" y2="68" stroke="#6a6a6a" stroke-width="1.1"/>
<line x1="29.4" y1="62.62" x2="31" y2="62.62" stroke="#6a6a6a" stroke-width="1.1"/>
<line x1="218.6" y1="62.62" x2="220.2" y2="62.62" stroke="#6a6a6a" stroke-width="1.1"/>
<line x1="29.4" y1="57.24" x2="31" y2="57.24" stroke="#6a6a6a" stroke-width="1.1"/>
<line x1="218.6" y1="57.24" x2="220.2" y2="57.24" stroke="#6a6a6a" stroke-width="1.1"/>
<line x1="29.4" y1="51.86" x2="31" y2="51.86" stroke="#6a6a6a" stroke-width="1.1"/>
<line x1="218.6" y1="51.86" x2="220.2" y2="51.86" stroke="#6a6a6a" stroke-width="1.1"/>
<text x="25.8" y="71.2" font-size="8.9" text-anchor="end">100</text>
<text x="25.8" y="98.1" font-size="8.9" text-anchor="end">50</text>
<text x="25.8" y="125" font-size="8.9" text-anchor="end">0</text>
<text x="25.8" y="151.9" font-size="8.9" text-anchor="end">-50</text>
<text x="25.8" y="178.8" font-size="8.9" text-anchor="end">-100</text>
<text x="25.8" y="205.7" font-size="8.9" text-anchor="end">-150</text>
<text x="117.9" y="230" font-size="10" text-anchor="middle">V(V)</text>
<text x="11.3" y="125" font-size="10.2" text-anchor="middle" transform="rotate(-90 11.3 125)">I (μA)</text>
<text x="-5.25" y="48.9" font-size="18" text-anchor="start" style="stroke-width:0.1px">c</text>
<text x="4.4" y="48.9" font-size="18" text-anchor="start" style="stroke-width:0.1px">)</text>
<line x1="273" y1="123.9" x2="450" y2="123.9" stroke="#8a8a8a" stroke-width="1.1"/>
<line x1="355" y1="48.4" x2="355" y2="199.5" stroke="#8a8a8a" stroke-width="1.1"/>
<path d="M285,133.5 C290.83,133.57 308.42,133.82 320,133.9 C331.58,133.98 348.75,133.98 354.5,134" fill="none" stroke="#a055dd" stroke-width="1.3" stroke-linejoin="round" stroke-linecap="round"/>
<path d="M285,156.1 C290.83,156.27 308.42,156.93 320,157.1 C331.58,157.27 348.75,157.1 354.5,157.1" fill="none" stroke="#1a9a55" stroke-width="1.3" stroke-linejoin="round" stroke-linecap="round"/>
<path d="M292.7,160.5 C297.25,160.53 309.95,160.65 320,160.7 C330.05,160.75 347.25,160.85 353,160.8 C358.75,160.75 354.25,160.47 354.5,160.4" fill="none" stroke="#3d3d3d" stroke-width="1.3" stroke-linejoin="round" stroke-linecap="round"/>
<path d="M285,173.8 C290.83,173.93 308.42,174.45 320,174.6 C331.58,174.75 348.75,174.68 354.5,174.7" fill="none" stroke="#1f66dd" stroke-width="1.3" stroke-linejoin="round" stroke-linecap="round"/>
<path d="M285,186.3 C287.5,186.42 294.17,186.9 300,187 C305.83,187.1 311.33,186.93 320,186.9 C328.67,186.87 346.25,186.77 352,186.8 C357.75,186.83 354.08,187.05 354.5,187.1" fill="none" stroke="#e8262f" stroke-width="1.3" stroke-linejoin="round" stroke-linecap="round"/>
<path d="M354.92,115.63 L354.62,115.76 L354.31,115.9 L354.01,116.04 L353.7,116.17 L353.4,116.31 L353.09,116.44 L352.79,116.57 L352.48,116.71 L352.17,116.84 L351.87,116.97 L351.56,117.1 L351.26,117.23 L350.95,117.36 L350.64,117.49 L350.34,117.62 L350.03,117.75 L349.72,117.88 L349.42,118 L349.11,118.13 L348.8,118.26 L348.49,118.38 L348.19,118.51 L347.88,118.63 L347.57,118.75 L347.26,118.88 L346.95,119 L346.65,119.12 L346.34,119.24 L346.03,119.37 L345.72,119.49 L345.41,119.61 L345.1,119.73 L344.79,119.84 L344.48,119.96 L344.17,120.08 L343.86,120.2 L343.55,120.31 L343.24,120.43 L342.93,120.55 L342.62,120.66 L342.31,120.78 L342,120.89 L341.69,121 L341.38,121.12 L341.07,121.23 L340.76,121.34 L340.44,121.45 L340.13,121.56 L339.82,121.67 L339.51,121.78 L339.2,121.89 L338.88,122 L338.57,122.11 L338.26,122.22 L337.95,122.32 L337.63,122.43 L337.32,122.54 L337.01,122.64 L336.7,122.75 L336.38,122.85 L336.07,122.96 L335.75,123.06 L335.44,123.16 L335.13,123.26 L334.81,123.37 L334.5,123.47 L334.18,123.57 L333.87,123.67 L333.56,123.77 L333.24,123.87 L332.93,123.97 L332.61,124.06 L332.3,124.16 L331.98,124.26 L331.67,124.36 L331.35,124.45 L331.03,124.55 L330.72,124.64 L330.4,124.74 L330.09,124.83 L329.77,124.92 L329.45,125.02 L329.14,125.11 L328.82,125.2 L328.5,125.29 L328.19,125.38 L327.87,125.47 L327.55,125.56 L327.23,125.65 L326.92,125.74 L326.6,125.83 L326.28,125.92 L325.96,126.01 L325.65,126.09 L325.33,126.18 L325.01,126.27 L324.69,126.35 L324.37,126.44 L324.05,126.52 L323.74,126.6 L323.42,126.69 L323.1,126.77 L322.78,126.85 L322.46,126.94 L322.14,127.02 L321.82,127.1 L321.5,127.18 L321.18,127.26 L320.86,127.34 L320.54,127.42 L320.22,127.49 L319.9,127.57 L319.58,127.65 L319.26,127.73 L318.94,127.8 L318.62,127.88 L318.3,127.95 L317.98,128.03 L317.65,128.1 L317.33,128.18 L317.01,128.25 L316.69,128.32 L316.37,128.4 L316.05,128.47 L315.72,128.54 L315.4,128.61 L315.08,128.68 L314.76,128.75 L314.44,128.82 L314.11,128.89 L313.79,128.96 L313.47,129.03 L313.14,129.1 L312.82,129.16 L312.5,129.23 L312.17,129.3 L311.85,129.36 L311.53,129.43 L311.2,129.49 L310.88,129.56 L310.56,129.62 L310.23,129.68 L309.91,129.75 L309.58,129.81 L309.26,129.87 L308.94,129.93 L308.61,129.99 L308.29,130.05 L307.96,130.11 L307.64,130.17 L307.31,130.23 L306.99,130.29 L306.66,130.35 L306.33,130.41 L306.01,130.47 L305.68,130.52 L305.36,130.58 L305.03,130.63 L304.71,130.69 L304.38,130.75 L304.05,130.8 L303.73,130.85 L303.4,130.91 L303.07,130.96 L302.75,131.01 L302.42,131.07 L302.09,131.12 L301.77,131.17 L301.44,131.22 L301.11,131.27 L300.79,131.32 L300.46,131.37 L300.13,131.42 L299.8,131.47 L299.48,131.52 L299.15,131.56 L298.82,131.61 L298.49,131.66 L298.16,131.7 L297.83,131.75 L297.51,131.8 L297.18,131.84 L296.85,131.88 L296.52,131.93 L296.19,131.97 L295.86,132.02 L295.53,132.06 L295.2,132.1 L294.88,132.14 L294.55,132.18 L294.22,132.23 L293.89,132.27 L293.56,132.31 L293.23,132.35 L292.9,132.39 L292.57,132.42 L292.24,132.46 L291.91,132.5 L291.58,132.54 L291.25,132.57 L290.92,132.61 L290.59,132.65 L290.25,132.68 L289.92,132.72 L289.59,132.75 L289.26,132.79 L288.93,132.82 L288.6,132.86 L288.27,132.89 L287.94,132.92 L287.61,132.95 L287.27,132.99 L286.94,133.02 L286.61,133.05 L286.28,133.08 L285.95,133.11 L285.61,133.14 L285.28,133.17 L284.95,133.2" fill="none" stroke="#a055dd" stroke-width="1.3" stroke-linejoin="round" stroke-linecap="round"/>
<path d="M355.21,92.15 L354.76,92.39 L354.32,92.64 L353.89,92.88 L353.46,93.14 L353.04,93.4 L352.63,93.66 L352.23,93.93 L351.83,94.21 L351.43,94.49 L351.05,94.77 L350.67,95.06 L350.29,95.36 L349.93,95.65 L349.56,95.96 L349.21,96.27 L348.86,96.58 L348.51,96.9 L348.17,97.22 L347.84,97.54 L347.51,97.87 L347.19,98.2 L346.87,98.54 L346.56,98.88 L346.25,99.23 L345.95,99.58 L345.65,99.93 L345.35,100.29 L345.06,100.65 L344.78,101.01 L344.5,101.37 L344.22,101.74 L343.95,102.12 L343.68,102.49 L343.42,102.87 L343.16,103.26 L342.91,103.64 L342.65,104.03 L342.41,104.42 L342.16,104.81 L341.92,105.21 L341.68,105.61 L341.45,106.01 L341.22,106.41 L340.99,106.82 L340.76,107.23 L340.54,107.64 L340.32,108.05 L340.11,108.47 L339.89,108.89 L339.68,109.3 L339.47,109.72 L339.26,110.15 L339.06,110.57 L338.86,111 L338.66,111.42 L338.46,111.85 L338.26,112.28 L338.07,112.72 L337.88,113.15 L337.68,113.58 L337.5,114.02 L337.31,114.45 L337.12,114.89 L336.93,115.33 L336.75,115.77 L336.57,116.21 L336.38,116.65 L336.2,117.09 L336.02,117.53 L335.84,117.97 L335.66,118.41 L335.48,118.86 L335.3,119.3 L335.12,119.74 L334.94,120.18 L334.77,120.63 L334.59,121.07 L334.41,121.51 L334.23,121.95 L334.05,122.4 L333.87,122.84 L333.69,123.28 L333.51,123.72 L333.33,124.16 L333.15,124.6 L332.97,125.04 L332.78,125.48 L332.6,125.91 L332.41,126.35 L332.23,126.79 L332.04,127.22 L331.85,127.65 L331.66,128.08 L331.47,128.51 L331.27,128.94 L331.08,129.37 L330.88,129.8 L330.68,130.22 L330.48,130.64 L330.28,131.06 L330.07,131.48 L329.87,131.9 L329.66,132.32 L329.45,132.73 L329.24,133.14 L329.02,133.55 L328.81,133.95 L328.59,134.36 L328.36,134.76 L328.14,135.16 L327.91,135.56 L327.68,135.95 L327.45,136.34 L327.21,136.73 L326.98,137.12 L326.74,137.5 L326.49,137.88 L326.24,138.25 L325.99,138.63 L325.74,139 L325.48,139.37 L325.22,139.73 L324.96,140.09 L324.69,140.45 L324.42,140.8 L324.15,141.15 L323.87,141.5 L323.59,141.84 L323.31,142.18 L323.02,142.51 L322.72,142.84 L322.43,143.17 L322.12,143.49 L321.82,143.81 L321.51,144.12 L321.2,144.43 L320.88,144.73 L320.56,145.03 L320.23,145.33 L319.9,145.62 L319.56,145.91 L319.22,146.19 L318.88,146.46 L318.53,146.74 L318.18,147.01 L317.82,147.27 L317.46,147.53 L317.09,147.78 L316.73,148.03 L316.35,148.28 L315.98,148.52 L315.6,148.76 L315.21,148.99 L314.82,149.22 L314.43,149.44 L314.04,149.66 L313.64,149.88 L313.24,150.09 L312.84,150.3 L312.43,150.5 L312.02,150.7 L311.6,150.9 L311.18,151.09 L310.76,151.27 L310.34,151.46 L309.91,151.64 L309.49,151.81 L309.05,151.98 L308.62,152.15 L308.18,152.31 L307.74,152.47 L307.3,152.62 L306.85,152.77 L306.4,152.92 L305.95,153.06 L305.5,153.2 L305.05,153.33 L304.59,153.47 L304.13,153.59 L303.67,153.72 L303.21,153.84 L302.74,153.95 L302.27,154.06 L301.8,154.17 L301.33,154.28 L300.86,154.38 L300.38,154.48 L299.91,154.57 L299.43,154.66 L298.95,154.75 L298.47,154.83 L297.99,154.91 L297.5,154.98 L297.02,155.06 L296.53,155.12 L296.04,155.19 L295.55,155.25 L295.06,155.31 L294.57,155.36 L294.08,155.42 L293.59,155.46 L293.1,155.51 L292.6,155.55 L292.11,155.59 L291.61,155.62 L291.11,155.65 L290.62,155.68 L290.12,155.71 L289.62,155.73 L289.12,155.75 L288.62,155.76 L288.12,155.77 L287.62,155.78 L287.12,155.79 L286.63,155.79 L286.13,155.79 L285.63,155.79 L285.13,155.78 L284.63,155.77" fill="none" stroke="#1a9a55" stroke-width="1.3" stroke-linejoin="round" stroke-linecap="round"/>
<path d="M354.69,84.37 L354.34,84.72 L354,85.08 L353.66,85.44 L353.33,85.81 L353,86.17 L352.68,86.55 L352.37,86.92 L352.06,87.3 L351.76,87.68 L351.46,88.07 L351.17,88.46 L350.88,88.85 L350.6,89.24 L350.33,89.64 L350.06,90.04 L349.8,90.45 L349.54,90.85 L349.28,91.26 L349.03,91.68 L348.79,92.09 L348.55,92.51 L348.31,92.93 L348.08,93.35 L347.86,93.78 L347.63,94.21 L347.42,94.64 L347.2,95.07 L346.99,95.51 L346.79,95.95 L346.59,96.39 L346.39,96.83 L346.2,97.27 L346.01,97.72 L345.82,98.17 L345.64,98.62 L345.46,99.07 L345.28,99.53 L345.11,99.99 L344.93,100.44 L344.77,100.9 L344.6,101.37 L344.44,101.83 L344.28,102.3 L344.13,102.76 L343.97,103.23 L343.82,103.7 L343.67,104.17 L343.53,104.65 L343.38,105.12 L343.24,105.6 L343.1,106.07 L342.96,106.55 L342.83,107.03 L342.69,107.51 L342.56,107.99 L342.43,108.48 L342.3,108.96 L342.17,109.44 L342.04,109.93 L341.92,110.42 L341.79,110.9 L341.67,111.39 L341.55,111.88 L341.43,112.37 L341.31,112.86 L341.18,113.35 L341.07,113.84 L340.95,114.33 L340.83,114.82 L340.71,115.31 L340.59,115.8 L340.47,116.29 L340.36,116.79 L340.24,117.28 L340.12,117.77 L340,118.26 L339.88,118.76 L339.77,119.25 L339.65,119.74 L339.53,120.23 L339.41,120.72 L339.29,121.22 L339.16,121.71 L339.04,122.2 L338.92,122.69 L338.79,123.18 L338.67,123.67 L338.54,124.16 L338.41,124.65 L338.28,125.14 L338.15,125.62 L338.02,126.11 L337.88,126.59 L337.75,127.08 L337.61,127.56 L337.47,128.05 L337.32,128.53 L337.18,129.01 L337.03,129.49 L336.88,129.97 L336.73,130.45 L336.58,130.92 L336.42,131.4 L336.26,131.87 L336.1,132.34 L335.93,132.81 L335.77,133.28 L335.6,133.75 L335.42,134.21 L335.25,134.68 L335.07,135.14 L334.89,135.6 L334.7,136.05 L334.51,136.51 L334.32,136.96 L334.12,137.41 L333.92,137.85 L333.72,138.3 L333.52,138.74 L333.31,139.17 L333.09,139.61 L332.88,140.04 L332.66,140.47 L332.43,140.89 L332.2,141.32 L331.97,141.73 L331.73,142.15 L331.49,142.56 L331.25,142.97 L331,143.37 L330.75,143.77 L330.49,144.16 L330.23,144.55 L329.96,144.94 L329.69,145.32 L329.41,145.7 L329.13,146.07 L328.85,146.44 L328.56,146.81 L328.26,147.16 L327.96,147.52 L327.66,147.87 L327.35,148.21 L327.04,148.55 L326.72,148.88 L326.39,149.21 L326.06,149.53 L325.73,149.85 L325.38,150.16 L325.04,150.47 L324.69,150.77 L324.33,151.06 L323.97,151.35 L323.6,151.63 L323.22,151.9 L322.84,152.17 L322.46,152.43 L322.06,152.69 L321.67,152.94 L321.26,153.18 L320.85,153.42 L320.44,153.65 L320.02,153.87 L319.59,154.09 L319.16,154.3 L318.72,154.5 L318.28,154.7 L317.84,154.9 L317.39,155.09 L316.93,155.27 L316.48,155.45 L316.01,155.62 L315.55,155.79 L315.08,155.95 L314.6,156.11 L314.13,156.27 L313.65,156.42 L313.16,156.56 L312.68,156.7 L312.19,156.84 L311.69,156.97 L311.2,157.1 L310.7,157.22 L310.2,157.34 L309.7,157.46 L309.2,157.58 L308.69,157.69 L308.19,157.79 L307.68,157.9 L307.17,158 L306.66,158.1 L306.15,158.19 L305.63,158.28 L305.12,158.37 L304.61,158.46 L304.09,158.55 L303.58,158.63 L303.06,158.71 L302.55,158.79 L302.03,158.87 L301.52,158.94 L301,159.01 L300.49,159.09 L299.98,159.16 L299.46,159.23 L298.95,159.29 L298.44,159.36 L297.94,159.43 L297.43,159.49 L296.93,159.56 L296.42,159.62 L295.92,159.69 L295.42,159.75 L294.93,159.81 L294.43,159.88 L293.94,159.94 L293.45,160 L292.96,160.07 L292.48,160.13" fill="none" stroke="#3d3d3d" stroke-width="1.3" stroke-linejoin="round" stroke-linecap="round"/>
<path d="M354.67,73.6 L354.22,74.05 L353.76,74.51 L353.32,74.97 L352.89,75.43 L352.46,75.9 L352.04,76.36 L351.63,76.84 L351.23,77.31 L350.83,77.79 L350.44,78.27 L350.06,78.76 L349.69,79.25 L349.32,79.74 L348.96,80.23 L348.61,80.73 L348.27,81.23 L347.93,81.73 L347.6,82.24 L347.27,82.75 L346.95,83.26 L346.64,83.78 L346.33,84.3 L346.03,84.82 L345.74,85.34 L345.45,85.86 L345.17,86.39 L344.89,86.92 L344.62,87.46 L344.35,87.99 L344.09,88.53 L343.84,89.07 L343.59,89.62 L343.35,90.16 L343.11,90.71 L342.87,91.26 L342.64,91.81 L342.42,92.37 L342.2,92.92 L341.98,93.48 L341.77,94.04 L341.56,94.61 L341.36,95.17 L341.16,95.74 L340.97,96.31 L340.78,96.88 L340.59,97.45 L340.41,98.02 L340.23,98.6 L340.05,99.18 L339.88,99.76 L339.71,100.34 L339.54,100.92 L339.38,101.51 L339.22,102.09 L339.06,102.68 L338.91,103.27 L338.76,103.86 L338.61,104.45 L338.46,105.05 L338.32,105.64 L338.18,106.24 L338.04,106.84 L337.9,107.43 L337.76,108.03 L337.63,108.63 L337.5,109.24 L337.37,109.84 L337.24,110.44 L337.11,111.05 L336.99,111.66 L336.86,112.26 L336.74,112.87 L336.62,113.48 L336.5,114.09 L336.38,114.7 L336.26,115.31 L336.14,115.92 L336.02,116.53 L335.9,117.15 L335.78,117.76 L335.67,118.37 L335.55,118.99 L335.43,119.6 L335.32,120.22 L335.2,120.83 L335.08,121.45 L334.96,122.07 L334.85,122.68 L334.73,123.3 L334.61,123.92 L334.49,124.54 L334.37,125.15 L334.24,125.77 L334.12,126.39 L334,127.01 L333.87,127.62 L333.75,128.24 L333.62,128.86 L333.49,129.48 L333.36,130.09 L333.22,130.71 L333.09,131.33 L332.95,131.94 L332.81,132.56 L332.67,133.18 L332.53,133.79 L332.38,134.41 L332.23,135.02 L332.08,135.63 L331.93,136.24 L331.77,136.85 L331.61,137.46 L331.45,138.07 L331.29,138.68 L331.12,139.28 L330.95,139.88 L330.77,140.49 L330.59,141.08 L330.41,141.68 L330.23,142.27 L330.04,142.87 L329.85,143.46 L329.65,144.04 L329.45,144.63 L329.24,145.21 L329.03,145.79 L328.82,146.36 L328.6,146.93 L328.38,147.5 L328.16,148.07 L327.92,148.63 L327.69,149.19 L327.45,149.74 L327.2,150.29 L326.95,150.84 L326.7,151.38 L326.43,151.91 L326.17,152.45 L325.9,152.97 L325.62,153.5 L325.34,154.02 L325.05,154.53 L324.75,155.04 L324.45,155.54 L324.15,156.04 L323.83,156.53 L323.52,157.02 L323.19,157.5 L322.86,157.98 L322.52,158.45 L322.18,158.91 L321.83,159.37 L321.47,159.82 L321.1,160.27 L320.73,160.7 L320.35,161.14 L319.97,161.56 L319.58,161.98 L319.18,162.39 L318.77,162.79 L318.35,163.19 L317.93,163.58 L317.5,163.96 L317.06,164.34 L316.61,164.7 L316.16,165.06 L315.7,165.41 L315.23,165.76 L314.75,166.09 L314.27,166.42 L313.78,166.74 L313.28,167.05 L312.77,167.36 L312.26,167.65 L311.74,167.94 L311.22,168.23 L310.69,168.5 L310.15,168.77 L309.6,169.02 L309.05,169.28 L308.5,169.52 L307.94,169.75 L307.37,169.98 L306.8,170.2 L306.22,170.42 L305.64,170.62 L305.05,170.82 L304.46,171.01 L303.87,171.19 L303.27,171.37 L302.66,171.53 L302.05,171.69 L301.44,171.85 L300.82,171.99 L300.2,172.13 L299.58,172.26 L298.95,172.38 L298.32,172.5 L297.68,172.6 L297.05,172.7 L296.4,172.8 L295.76,172.88 L295.12,172.96 L294.47,173.03 L293.82,173.09 L293.17,173.15 L292.51,173.2 L291.85,173.24 L291.2,173.27 L290.54,173.3 L289.87,173.32 L289.21,173.33 L288.55,173.33 L287.88,173.33 L287.22,173.32 L286.55,173.3 L285.88,173.28 L285.22,173.24 L284.55,173.21" fill="none" stroke="#1f66dd" stroke-width="1.3" stroke-linejoin="round" stroke-linecap="round"/>
<path d="M354.87,60.91 L354.16,61.27 L353.48,61.65 L352.81,62.05 L352.18,62.47 L351.56,62.9 L350.97,63.35 L350.4,63.81 L349.86,64.29 L349.33,64.78 L348.82,65.29 L348.34,65.81 L347.87,66.35 L347.42,66.9 L346.99,67.46 L346.57,68.03 L346.17,68.61 L345.79,69.21 L345.43,69.82 L345.08,70.43 L344.74,71.06 L344.42,71.7 L344.11,72.34 L343.82,73 L343.54,73.66 L343.26,74.33 L343.01,75.01 L342.76,75.69 L342.52,76.38 L342.29,77.08 L342.07,77.78 L341.86,78.49 L341.66,79.2 L341.46,79.92 L341.27,80.64 L341.09,81.36 L340.91,82.09 L340.74,82.82 L340.57,83.55 L340.41,84.28 L340.25,85.02 L340.1,85.75 L339.94,86.49 L339.79,87.22 L339.64,87.95 L339.49,88.69 L339.34,89.42 L339.19,90.15 L339.04,90.88 L338.89,91.61 L338.74,92.33 L338.6,93.06 L338.45,93.78 L338.3,94.51 L338.15,95.23 L338.01,95.95 L337.86,96.67 L337.72,97.39 L337.57,98.11 L337.43,98.83 L337.29,99.54 L337.15,100.26 L337,100.98 L336.86,101.69 L336.72,102.41 L336.58,103.13 L336.45,103.84 L336.31,104.56 L336.17,105.27 L336.04,105.98 L335.9,106.7 L335.77,107.41 L335.64,108.13 L335.5,108.84 L335.37,109.56 L335.24,110.27 L335.12,110.99 L334.99,111.7 L334.86,112.42 L334.74,113.13 L334.61,113.85 L334.49,114.57 L334.37,115.29 L334.25,116 L334.13,116.72 L334.01,117.44 L333.9,118.16 L333.78,118.88 L333.67,119.61 L333.56,120.33 L333.45,121.05 L333.34,121.78 L333.24,122.51 L333.13,123.23 L333.03,123.96 L332.93,124.69 L332.83,125.42 L332.73,126.16 L332.63,126.89 L332.53,127.63 L332.44,128.36 L332.35,129.1 L332.26,129.84 L332.17,130.59 L332.09,131.33 L332,132.08 L331.92,132.83 L331.84,133.57 L331.76,134.33 L331.68,135.08 L331.6,135.83 L331.53,136.58 L331.45,137.34 L331.38,138.1 L331.3,138.85 L331.22,139.61 L331.15,140.36 L331.07,141.12 L330.99,141.88 L330.91,142.64 L330.83,143.39 L330.75,144.15 L330.67,144.9 L330.58,145.66 L330.49,146.41 L330.4,147.16 L330.31,147.91 L330.21,148.66 L330.12,149.41 L330.01,150.16 L329.91,150.91 L329.8,151.65 L329.69,152.39 L329.57,153.13 L329.45,153.86 L329.33,154.6 L329.2,155.33 L329.06,156.06 L328.92,156.78 L328.78,157.51 L328.63,158.23 L328.47,158.94 L328.31,159.65 L328.14,160.36 L327.97,161.07 L327.79,161.77 L327.59,162.46 L327.4,163.15 L327.19,163.83 L326.97,164.5 L326.74,165.17 L326.51,165.83 L326.26,166.48 L326,167.12 L325.73,167.75 L325.44,168.37 L325.15,168.98 L324.84,169.58 L324.51,170.17 L324.18,170.74 L323.82,171.3 L323.45,171.85 L323.07,172.39 L322.67,172.91 L322.25,173.42 L321.82,173.91 L321.37,174.39 L320.9,174.85 L320.41,175.3 L319.91,175.73 L319.4,176.15 L318.87,176.56 L318.32,176.95 L317.76,177.33 L317.19,177.69 L316.61,178.05 L316.01,178.39 L315.4,178.72 L314.78,179.04 L314.14,179.35 L313.5,179.64 L312.85,179.93 L312.18,180.21 L311.51,180.47 L310.83,180.73 L310.14,180.97 L309.44,181.21 L308.73,181.44 L308.02,181.66 L307.3,181.87 L306.57,182.07 L305.84,182.27 L305.1,182.46 L304.36,182.64 L303.61,182.81 L302.86,182.98 L302.11,183.14 L301.35,183.3 L300.59,183.45 L299.83,183.59 L299.06,183.73 L298.3,183.87 L297.53,184 L296.76,184.12 L295.99,184.24 L295.23,184.36 L294.46,184.48 L293.7,184.59 L292.94,184.7 L292.18,184.81 L291.42,184.92 L290.67,185.02 L289.92,185.12 L289.17,185.22 L288.43,185.32 L287.69,185.42 L286.96,185.52 L286.24,185.62 L285.52,185.72 L284.81,185.82" fill="none" stroke="#e8262f" stroke-width="1.3" stroke-linejoin="round" stroke-linecap="round"/>
<path d="M355,61.4 C358.5,61.32 360.33,60.98 376,60.9 C391.67,60.82 436.83,60.9 449,60.9" fill="none" stroke="#e8262f" stroke-width="1.3" stroke-linejoin="round" stroke-linecap="round"/>
<path d="M355,73.9 C356.67,73.78 361.5,73.37 365,73.2 C368.5,73.03 362,72.92 376,72.9 C390,72.88 436.83,73.07 449,73.1" fill="none" stroke="#1f66dd" stroke-width="1.3" stroke-linejoin="round" stroke-linecap="round"/>
<path d="M355,85 C355.83,84.83 356.5,84.28 360,84 C363.5,83.72 367.67,83.52 376,83.3 C384.33,83.08 401,82.72 410,82.7 C419,82.68 425.33,83.02 430,83.2 C434.67,83.38 436.18,83.58 438,83.8 C439.82,84.02 440.42,84.38 440.9,84.5" fill="none" stroke="#3d3d3d" stroke-width="1.3" stroke-linejoin="round" stroke-linecap="round"/>
<path d="M355,92.1 C356.17,92 358.5,91.63 362,91.5 C365.5,91.37 368,91.33 376,91.3 C384,91.27 399.33,91.15 410,91.3 C420.67,91.45 433.5,91.98 440,92.2 C446.5,92.42 447.5,92.53 449,92.6" fill="none" stroke="#1a9a55" stroke-width="1.3" stroke-linejoin="round" stroke-linecap="round"/>
<path d="M355,116 C359.17,115.97 372.5,115.73 380,115.8 C387.5,115.87 388.5,116.13 400,116.4 C411.5,116.67 440.83,117.23 449,117.4" fill="none" stroke="#a055dd" stroke-width="1.3" stroke-linejoin="round" stroke-linecap="round"/>
<path d="M356.64,184 L357.45,183.85 L358.27,183.71 L359.1,183.56 L359.93,183.42 L360.77,183.27 L361.61,183.12 L362.46,182.98 L363.31,182.83 L364.16,182.67 L365.01,182.52 L365.86,182.36 L366.7,182.19 L367.55,182.02 L368.39,181.85 L369.23,181.66 L370.07,181.47 L370.9,181.28 L371.72,181.07 L372.54,180.86 L373.35,180.63 L374.14,180.4 L374.93,180.15 L375.71,179.89 L376.48,179.62 L377.24,179.34 L377.98,179.05 L378.71,178.74 L379.42,178.41 L380.12,178.07 L380.81,177.72 L381.47,177.35 L382.12,176.96 L382.76,176.56 L383.37,176.14 L383.97,175.71 L384.55,175.26 L385.12,174.8 L385.66,174.32 L386.19,173.82 L386.7,173.31 L387.19,172.78 L387.66,172.24 L388.11,171.68 L388.54,171.1 L388.95,170.51 L389.34,169.9 L389.71,169.28 L390.06,168.64 L390.39,167.98 L390.71,167.31 L391,166.63 L391.28,165.93 L391.54,165.22 L391.79,164.5 L392.02,163.77 L392.24,163.03 L392.45,162.27 L392.64,161.51 L392.82,160.74 L392.98,159.95 L393.14,159.16 L393.29,158.37 L393.43,157.56 L393.56,156.75 L393.68,155.94 L393.79,155.12 L393.9,154.29 L394,153.46 L394.1,152.63 L394.19,151.8 L394.28,150.96 L394.37,150.12 L394.45,149.28 L394.54,148.44 L394.62,147.6 L394.7,146.76 L394.78,145.92 L394.86,145.08 L394.94,144.25 L395.03,143.42 L395.12,142.59 L395.21,141.77 L395.31,140.95 L395.41,140.13 L395.51,139.32 L395.61,138.51 L395.72,137.7 L395.83,136.89 L395.94,136.09 L396.05,135.29 L396.17,134.49 L396.29,133.69 L396.41,132.9 L396.54,132.11 L396.66,131.31 L396.79,130.53 L396.92,129.74 L397.05,128.95 L397.19,128.17 L397.32,127.38 L397.46,126.6 L397.6,125.82 L397.74,125.03 L397.89,124.25 L398.03,123.47 L398.18,122.69 L398.32,121.91 L398.47,121.13 L398.62,120.35 L398.78,119.57 L398.93,118.79 L399.08,118.01 L399.24,117.23 L399.4,116.45 L399.55,115.67 L399.71,114.88 L399.87,114.1 L400.03,113.31 L400.19,112.52 L400.36,111.74 L400.52,110.95 L400.68,110.15 L400.85,109.36 L401.01,108.56 L401.17,107.77 L401.34,106.97 L401.5,106.16 L401.67,105.36 L401.84,104.55 L402,103.74 L402.17,102.93 L402.34,102.12 L402.51,101.31 L402.68,100.49 L402.86,99.68 L403.03,98.86 L403.21,98.05 L403.4,97.24 L403.58,96.42 L403.78,95.61 L403.97,94.8 L404.17,94 L404.38,93.2 L404.59,92.39 L404.81,91.6 L405.03,90.8 L405.26,90.01 L405.5,89.23 L405.74,88.45 L405.99,87.68 L406.25,86.91 L406.52,86.14 L406.8,85.39 L407.08,84.63 L407.38,83.89 L407.68,83.15 L408,82.43 L408.32,81.71 L408.65,80.99 L409,80.29 L409.36,79.6 L409.73,78.91 L410.11,78.24 L410.5,77.57 L410.91,76.92 L411.33,76.28 L411.76,75.64 L412.21,75.03 L412.67,74.42 L413.14,73.82 L413.63,73.24 L414.14,72.67 L414.66,72.11 L415.19,71.57 L415.75,71.05 L416.31,70.53 L416.9,70.03 L417.5,69.55 L418.11,69.08 L418.74,68.62 L419.38,68.18 L420.03,67.75 L420.7,67.33 L421.38,66.93 L422.07,66.55 L422.77,66.17 L423.48,65.81 L424.2,65.47 L424.93,65.13 L425.68,64.81 L426.43,64.51 L427.19,64.22 L427.95,63.94 L428.73,63.67 L429.51,63.42 L430.3,63.18 L431.09,62.95 L431.89,62.74 L432.7,62.54 L433.5,62.35 L434.32,62.18 L435.14,62.02 L435.96,61.87 L436.78,61.74 L437.61,61.61 L438.43,61.5 L439.26,61.4 L440.09,61.32 L440.92,61.25 L441.75,61.19 L442.58,61.14 L443.41,61.1 L444.24,61.08 L445.06,61.07 L445.89,61.07 L446.71,61.08 L447.52,61.11 L448.34,61.14 L449.15,61.19" fill="none" stroke="#e8262f" stroke-width="1.3" stroke-linejoin="round" stroke-linecap="round"/>
<path d="M356.66,170.01 L357.4,170.03 L358.14,170.05 L358.88,170.05 L359.61,170.05 L360.34,170.04 L361.06,170.02 L361.79,170 L362.51,169.96 L363.23,169.92 L363.94,169.87 L364.65,169.81 L365.36,169.74 L366.06,169.66 L366.76,169.57 L367.45,169.47 L368.14,169.37 L368.83,169.25 L369.51,169.13 L370.18,169 L370.85,168.85 L371.51,168.7 L372.17,168.54 L372.83,168.37 L373.48,168.19 L374.12,168 L374.75,167.8 L375.38,167.59 L376.01,167.37 L376.62,167.14 L377.23,166.9 L377.84,166.65 L378.43,166.39 L379.02,166.12 L379.6,165.84 L380.18,165.55 L380.74,165.25 L381.3,164.94 L381.85,164.62 L382.4,164.29 L382.93,163.95 L383.46,163.6 L383.97,163.23 L384.48,162.86 L384.98,162.47 L385.47,162.08 L385.95,161.67 L386.43,161.25 L386.89,160.82 L387.34,160.38 L387.79,159.94 L388.22,159.48 L388.65,159.01 L389.07,158.53 L389.48,158.05 L389.89,157.56 L390.28,157.06 L390.67,156.55 L391.05,156.03 L391.42,155.51 L391.79,154.98 L392.15,154.44 L392.5,153.9 L392.85,153.36 L393.19,152.8 L393.52,152.25 L393.85,151.69 L394.17,151.12 L394.49,150.55 L394.8,149.98 L395.1,149.4 L395.4,148.82 L395.7,148.24 L395.99,147.65 L396.28,147.07 L396.56,146.48 L396.83,145.88 L397.1,145.29 L397.37,144.69 L397.63,144.09 L397.89,143.49 L398.15,142.88 L398.4,142.28 L398.65,141.67 L398.9,141.05 L399.14,140.44 L399.38,139.83 L399.61,139.21 L399.84,138.59 L400.07,137.97 L400.3,137.35 L400.53,136.72 L400.75,136.09 L400.97,135.47 L401.19,134.84 L401.4,134.21 L401.62,133.57 L401.83,132.94 L402.04,132.31 L402.25,131.67 L402.46,131.03 L402.67,130.4 L402.87,129.76 L403.08,129.12 L403.28,128.47 L403.49,127.83 L403.69,127.19 L403.89,126.55 L404.09,125.9 L404.3,125.26 L404.5,124.61 L404.7,123.96 L404.91,123.32 L405.11,122.67 L405.32,122.02 L405.52,121.38 L405.73,120.73 L405.93,120.08 L406.14,119.43 L406.35,118.79 L406.56,118.14 L406.77,117.49 L406.99,116.84 L407.21,116.19 L407.42,115.55 L407.64,114.9 L407.86,114.25 L408.09,113.61 L408.32,112.96 L408.55,112.32 L408.78,111.67 L409.01,111.03 L409.25,110.38 L409.49,109.74 L409.74,109.1 L409.99,108.46 L410.24,107.82 L410.49,107.18 L410.75,106.54 L411.01,105.91 L411.28,105.28 L411.55,104.64 L411.82,104.02 L412.1,103.39 L412.38,102.76 L412.66,102.14 L412.95,101.52 L413.25,100.9 L413.54,100.29 L413.84,99.68 L414.15,99.07 L414.46,98.46 L414.78,97.86 L415.09,97.27 L415.42,96.67 L415.75,96.08 L416.08,95.5 L416.42,94.91 L416.76,94.34 L417.11,93.76 L417.46,93.2 L417.82,92.63 L418.18,92.07 L418.55,91.52 L418.92,90.97 L419.3,90.43 L419.68,89.89 L420.07,89.36 L420.46,88.83 L420.86,88.31 L421.27,87.8 L421.68,87.29 L422.1,86.79 L422.52,86.3 L422.95,85.81 L423.38,85.33 L423.82,84.85 L424.27,84.39 L424.72,83.93 L425.18,83.48 L425.64,83.03 L426.11,82.59 L426.59,82.16 L427.08,81.74 L427.57,81.33 L428.06,80.92 L428.57,80.53 L429.08,80.14 L429.59,79.76 L430.12,79.39 L430.65,79.03 L431.18,78.68 L431.73,78.34 L432.28,78 L432.84,77.68 L433.4,77.36 L433.98,77.06 L434.56,76.77 L435.15,76.48 L435.74,76.21 L436.34,75.95 L436.95,75.69 L437.57,75.45 L438.2,75.22 L438.83,75 L439.47,74.79 L440.12,74.6 L440.78,74.41 L441.44,74.24 L442.12,74.07 L442.8,73.92 L443.49,73.78 L444.18,73.66 L444.89,73.54 L445.6,73.44 L446.33,73.35 L447.06,73.28 L447.8,73.22 L448.55,73.17 L449.3,73.13" fill="none" stroke="#1f66dd" stroke-width="1.3" stroke-linejoin="round" stroke-linecap="round"/>
<path d="M355.13,162.44 L355.86,162.39 L356.58,162.33 L357.3,162.26 L358,162.18 L358.69,162.08 L359.36,161.98 L360.03,161.87 L360.69,161.75 L361.34,161.62 L361.97,161.48 L362.6,161.33 L363.22,161.17 L363.82,161 L364.42,160.82 L365.01,160.64 L365.59,160.44 L366.15,160.24 L366.71,160.03 L367.26,159.8 L367.8,159.57 L368.34,159.34 L368.86,159.09 L369.37,158.84 L369.88,158.58 L370.37,158.31 L370.86,158.03 L371.34,157.74 L371.81,157.45 L372.28,157.15 L372.73,156.84 L373.18,156.53 L373.62,156.21 L374.05,155.88 L374.48,155.54 L374.9,155.2 L375.31,154.85 L375.71,154.5 L376.11,154.13 L376.5,153.77 L376.88,153.39 L377.26,153.01 L377.63,152.62 L377.99,152.23 L378.35,151.83 L378.7,151.43 L379.04,151.02 L379.38,150.6 L379.72,150.18 L380.04,149.76 L380.37,149.33 L380.68,148.89 L381,148.45 L381.3,148.01 L381.6,147.55 L381.9,147.1 L382.19,146.64 L382.48,146.18 L382.76,145.71 L383.04,145.24 L383.31,144.76 L383.58,144.28 L383.84,143.8 L384.1,143.31 L384.36,142.82 L384.62,142.32 L384.86,141.82 L385.11,141.32 L385.35,140.82 L385.59,140.31 L385.83,139.8 L386.06,139.29 L386.29,138.77 L386.52,138.25 L386.74,137.73 L386.97,137.21 L387.19,136.68 L387.4,136.15 L387.62,135.62 L387.83,135.09 L388.04,134.55 L388.25,134.02 L388.46,133.48 L388.67,132.94 L388.87,132.4 L389.07,131.86 L389.27,131.31 L389.48,130.77 L389.67,130.22 L389.87,129.68 L390.07,129.13 L390.27,128.58 L390.46,128.03 L390.66,127.48 L390.86,126.93 L391.05,126.38 L391.25,125.83 L391.44,125.28 L391.64,124.73 L391.84,124.18 L392.03,123.63 L392.23,123.09 L392.43,122.54 L392.63,121.99 L392.82,121.44 L393.02,120.9 L393.23,120.35 L393.43,119.81 L393.63,119.26 L393.84,118.72 L394.04,118.18 L394.25,117.64 L394.46,117.1 L394.68,116.57 L394.89,116.04 L395.11,115.5 L395.32,114.97 L395.55,114.45 L395.77,113.92 L396,113.4 L396.22,112.88 L396.46,112.36 L396.69,111.84 L396.93,111.33 L397.17,110.82 L397.41,110.31 L397.66,109.81 L397.91,109.31 L398.17,108.81 L398.43,108.32 L398.69,107.83 L398.95,107.34 L399.22,106.86 L399.5,106.38 L399.78,105.91 L400.06,105.43 L400.35,104.97 L400.64,104.51 L400.94,104.05 L401.24,103.59 L401.55,103.15 L401.86,102.7 L402.18,102.26 L402.5,101.83 L402.83,101.4 L403.17,100.98 L403.51,100.56 L403.85,100.14 L404.21,99.74 L404.56,99.34 L404.93,98.94 L405.3,98.55 L405.68,98.16 L406.06,97.79 L406.45,97.41 L406.85,97.05 L407.25,96.69 L407.66,96.33 L408.08,95.99 L408.51,95.65 L408.94,95.32 L409.38,94.99 L409.83,94.67 L410.28,94.36 L410.74,94.05 L411.21,93.75 L411.69,93.46 L412.17,93.18 L412.66,92.9 L413.15,92.62 L413.65,92.36 L414.15,92.09 L414.66,91.84 L415.18,91.59 L415.7,91.35 L416.23,91.11 L416.76,90.88 L417.29,90.65 L417.83,90.43 L418.37,90.21 L418.92,90 L419.47,89.8 L420.02,89.6 L420.58,89.4 L421.14,89.21 L421.7,89.03 L422.27,88.84 L422.84,88.67 L423.4,88.5 L423.98,88.33 L424.55,88.17 L425.13,88.01 L425.7,87.85 L426.28,87.7 L426.86,87.56 L427.44,87.41 L428.02,87.27 L428.6,87.14 L429.18,87.01 L429.76,86.88 L430.34,86.75 L430.93,86.63 L431.51,86.51 L432.08,86.4 L432.66,86.29 L433.24,86.18 L433.82,86.07 L434.39,85.97 L434.96,85.86 L435.53,85.77 L436.1,85.67 L436.67,85.58 L437.23,85.48 L437.79,85.4 L438.35,85.31 L438.9,85.22 L439.45,85.14 L440,85.06 L440.55,84.98 L441.09,84.9" fill="none" stroke="#3d3d3d" stroke-width="1.3" stroke-linejoin="round" stroke-linecap="round"/>
<path d="M356.87,149.04 L357.38,148.98 L357.89,148.93 L358.4,148.88 L358.92,148.83 L359.43,148.79 L359.95,148.75 L360.48,148.71 L361,148.67 L361.53,148.64 L362.06,148.61 L362.59,148.58 L363.12,148.55 L363.66,148.52 L364.19,148.49 L364.73,148.47 L365.27,148.45 L365.81,148.42 L366.36,148.4 L366.9,148.38 L367.45,148.36 L367.99,148.34 L368.54,148.33 L369.09,148.31 L369.64,148.29 L370.19,148.27 L370.74,148.25 L371.29,148.24 L371.84,148.22 L372.4,148.2 L372.95,148.18 L373.5,148.16 L374.06,148.14 L374.61,148.12 L375.16,148.1 L375.72,148.08 L376.27,148.05 L376.82,148.03 L377.38,148 L377.93,147.97 L378.48,147.94 L379.03,147.91 L379.58,147.87 L380.13,147.84 L380.68,147.8 L381.23,147.76 L381.78,147.71 L382.32,147.67 L382.87,147.62 L383.41,147.57 L383.95,147.51 L384.5,147.46 L385.03,147.4 L385.57,147.33 L386.11,147.26 L386.64,147.19 L387.17,147.12 L387.71,147.04 L388.23,146.96 L388.76,146.87 L389.28,146.78 L389.81,146.68 L390.33,146.59 L390.84,146.48 L391.36,146.37 L391.87,146.26 L392.38,146.14 L392.88,146.02 L393.39,145.89 L393.89,145.75 L394.38,145.61 L394.88,145.47 L395.37,145.32 L395.86,145.16 L396.34,145 L396.82,144.83 L397.3,144.66 L397.77,144.48 L398.24,144.29 L398.7,144.1 L399.17,143.9 L399.62,143.69 L400.08,143.47 L400.53,143.25 L400.97,143.02 L401.41,142.79 L401.85,142.55 L402.28,142.3 L402.71,142.05 L403.13,141.78 L403.55,141.52 L403.97,141.24 L404.38,140.96 L404.79,140.67 L405.2,140.38 L405.6,140.08 L406,139.78 L406.39,139.47 L406.78,139.15 L407.17,138.83 L407.55,138.5 L407.94,138.17 L408.31,137.83 L408.69,137.49 L409.05,137.14 L409.42,136.79 L409.78,136.43 L410.14,136.06 L410.5,135.69 L410.86,135.32 L411.21,134.94 L411.55,134.56 L411.9,134.17 L412.24,133.78 L412.58,133.38 L412.91,132.98 L413.24,132.58 L413.57,132.17 L413.9,131.75 L414.22,131.34 L414.55,130.91 L414.86,130.49 L415.18,130.06 L415.49,129.63 L415.8,129.19 L416.11,128.75 L416.42,128.31 L416.72,127.87 L417.02,127.42 L417.32,126.96 L417.62,126.51 L417.91,126.05 L418.2,125.59 L418.49,125.13 L418.78,124.66 L419.07,124.2 L419.35,123.73 L419.64,123.26 L419.92,122.78 L420.2,122.31 L420.48,121.83 L420.76,121.36 L421.04,120.88 L421.32,120.4 L421.59,119.92 L421.87,119.44 L422.15,118.96 L422.42,118.47 L422.7,117.99 L422.98,117.51 L423.25,117.03 L423.53,116.55 L423.81,116.07 L424.08,115.58 L424.36,115.1 L424.64,114.63 L424.92,114.15 L425.2,113.67 L425.48,113.19 L425.76,112.72 L426.04,112.25 L426.33,111.77 L426.61,111.3 L426.9,110.84 L427.19,110.37 L427.48,109.91 L427.77,109.45 L428.07,108.99 L428.36,108.53 L428.66,108.08 L428.96,107.63 L429.27,107.19 L429.57,106.74 L429.88,106.3 L430.2,105.87 L430.51,105.43 L430.83,105.01 L431.15,104.58 L431.47,104.16 L431.8,103.75 L432.13,103.34 L432.47,102.93 L432.81,102.53 L433.15,102.13 L433.5,101.74 L433.85,101.35 L434.2,100.97 L434.56,100.6 L434.92,100.23 L435.29,99.86 L435.66,99.5 L436.04,99.15 L436.42,98.81 L436.81,98.47 L437.2,98.13 L437.6,97.81 L438,97.49 L438.41,97.18 L438.82,96.87 L439.24,96.58 L439.66,96.29 L440.1,96 L440.53,95.73 L440.97,95.46 L441.42,95.2 L441.88,94.95 L442.34,94.71 L442.81,94.48 L443.28,94.25 L443.77,94.04 L444.25,93.83 L444.75,93.63 L445.25,93.44 L445.76,93.26 L446.28,93.09 L446.81,92.93 L447.34,92.78 L447.88,92.64 L448.43,92.51 L448.98,92.39" fill="none" stroke="#1a9a55" stroke-width="1.3" stroke-linejoin="round" stroke-linecap="round"/>
<path d="M356.91,132.59 L357.35,132.61 L357.79,132.64 L358.22,132.66 L358.66,132.68 L359.1,132.69 L359.53,132.71 L359.97,132.73 L360.4,132.74 L360.84,132.75 L361.27,132.76 L361.71,132.77 L362.14,132.78 L362.58,132.79 L363.01,132.8 L363.45,132.8 L363.88,132.81 L364.32,132.81 L364.75,132.81 L365.18,132.81 L365.61,132.81 L366.05,132.81 L366.48,132.8 L366.91,132.8 L367.34,132.79 L367.78,132.78 L368.21,132.78 L368.64,132.77 L369.07,132.76 L369.5,132.74 L369.93,132.73 L370.36,132.72 L370.79,132.7 L371.22,132.68 L371.65,132.67 L372.08,132.65 L372.51,132.63 L372.94,132.61 L373.37,132.58 L373.8,132.56 L374.23,132.54 L374.66,132.51 L375.09,132.48 L375.51,132.46 L375.94,132.43 L376.37,132.4 L376.8,132.37 L377.22,132.34 L377.65,132.3 L378.08,132.27 L378.51,132.23 L378.93,132.2 L379.36,132.16 L379.78,132.12 L380.21,132.08 L380.64,132.04 L381.06,132 L381.49,131.96 L381.91,131.92 L382.34,131.87 L382.76,131.83 L383.19,131.78 L383.61,131.73 L384.04,131.69 L384.46,131.64 L384.89,131.59 L385.31,131.54 L385.73,131.48 L386.16,131.43 L386.58,131.38 L387,131.32 L387.43,131.27 L387.85,131.21 L388.27,131.16 L388.69,131.1 L389.12,131.04 L389.54,130.98 L389.96,130.92 L390.38,130.86 L390.8,130.79 L391.23,130.73 L391.65,130.67 L392.07,130.6 L392.49,130.54 L392.91,130.47 L393.33,130.4 L393.75,130.33 L394.17,130.27 L394.59,130.2 L395.01,130.13 L395.43,130.05 L395.85,129.98 L396.27,129.91 L396.69,129.84 L397.11,129.76 L397.53,129.69 L397.95,129.61 L398.37,129.53 L398.79,129.46 L399.21,129.38 L399.63,129.3 L400.05,129.22 L400.46,129.14 L400.88,129.06 L401.3,128.98 L401.72,128.89 L402.14,128.81 L402.55,128.73 L402.97,128.64 L403.39,128.56 L403.81,128.47 L404.22,128.39 L404.64,128.3 L405.06,128.21 L405.48,128.12 L405.89,128.04 L406.31,127.95 L406.73,127.86 L407.14,127.77 L407.56,127.67 L407.98,127.58 L408.39,127.49 L408.81,127.4 L409.22,127.3 L409.64,127.21 L410.06,127.12 L410.47,127.02 L410.89,126.92 L411.3,126.83 L411.72,126.73 L412.13,126.63 L412.55,126.54 L412.96,126.44 L413.38,126.34 L413.79,126.24 L414.21,126.14 L414.62,126.04 L415.04,125.94 L415.45,125.84 L415.87,125.73 L416.28,125.63 L416.7,125.53 L417.11,125.43 L417.52,125.32 L417.94,125.22 L418.35,125.11 L418.77,125.01 L419.18,124.9 L419.59,124.8 L420.01,124.69 L420.42,124.59 L420.83,124.48 L421.25,124.37 L421.66,124.27 L422.07,124.16 L422.49,124.05 L422.9,123.94 L423.31,123.83 L423.73,123.72 L424.14,123.61 L424.55,123.5 L424.97,123.39 L425.38,123.28 L425.79,123.17 L426.21,123.06 L426.62,122.95 L427.03,122.84 L427.44,122.73 L427.86,122.61 L428.27,122.5 L428.68,122.39 L429.09,122.28 L429.51,122.16 L429.92,122.05 L430.33,121.94 L430.74,121.82 L431.16,121.71 L431.57,121.59 L431.98,121.48 L432.39,121.37 L432.8,121.25 L433.22,121.14 L433.63,121.02 L434.04,120.91 L434.45,120.79 L434.86,120.67 L435.28,120.56 L435.69,120.44 L436.1,120.33 L436.51,120.21 L436.92,120.1 L437.34,119.98 L437.75,119.86 L438.16,119.75 L438.57,119.63 L438.98,119.51 L439.4,119.4 L439.81,119.28 L440.22,119.16 L440.63,119.05 L441.04,118.93 L441.45,118.81 L441.87,118.7 L442.28,118.58 L442.69,118.46 L443.1,118.35 L443.51,118.23 L443.92,118.11 L444.34,118 L444.75,117.88 L445.16,117.76 L445.57,117.65 L445.98,117.53 L446.4,117.41 L446.81,117.3 L447.22,117.18 L447.63,117.06 L448.04,116.95 L448.46,116.83 L448.87,116.71" fill="none" stroke="#a055dd" stroke-width="1.3" stroke-linejoin="round" stroke-linecap="round"/>
<line x1="273" y1="48.4" x2="450" y2="48.4" stroke="#6a6a6a" stroke-width="1.1"/>
<line x1="273" y1="199.5" x2="450" y2="199.5" stroke="#6a6a6a" stroke-width="1.1"/>
<line x1="273" y1="48.4" x2="273" y2="199.5" stroke="#6a6a6a" stroke-width="1.1"/>
<line x1="284.8" y1="199.5" x2="284.8" y2="202.1" stroke="#6a6a6a" stroke-width="1.1"/>
<line x1="284.8" y1="48.4" x2="284.8" y2="45.8" stroke="#6a6a6a" stroke-width="1.1"/>
<text x="284.8" y="211.2" font-size="8.6" text-anchor="middle">-3</text>
<line x1="308.2" y1="199.5" x2="308.2" y2="202.1" stroke="#6a6a6a" stroke-width="1.1"/>
<line x1="308.2" y1="48.4" x2="308.2" y2="45.8" stroke="#6a6a6a" stroke-width="1.1"/>
<text x="308.2" y="211.2" font-size="8.6" text-anchor="middle">-2</text>
<line x1="331.6" y1="199.5" x2="331.6" y2="202.1" stroke="#6a6a6a" stroke-width="1.1"/>
<line x1="331.6" y1="48.4" x2="331.6" y2="45.8" stroke="#6a6a6a" stroke-width="1.1"/>
<text x="331.6" y="211.2" font-size="8.6" text-anchor="middle">-1</text>
<line x1="355" y1="199.5" x2="355" y2="202.1" stroke="#6a6a6a" stroke-width="1.1"/>
<line x1="355" y1="48.4" x2="355" y2="45.8" stroke="#6a6a6a" stroke-width="1.1"/>
<text x="355" y="211.2" font-size="8.6" text-anchor="middle">0</text>
<line x1="378.4" y1="199.5" x2="378.4" y2="202.1" stroke="#6a6a6a" stroke-width="1.1"/>
<line x1="378.4" y1="48.4" x2="378.4" y2="45.8" stroke="#6a6a6a" stroke-width="1.1"/>
<text x="378.4" y="211.2" font-size="8.6" text-anchor="middle">1</text>
<line x1="401.8" y1="199.5" x2="401.8" y2="202.1" stroke="#6a6a6a" stroke-width="1.1"/>
<line x1="401.8" y1="48.4" x2="401.8" y2="45.8" stroke="#6a6a6a" stroke-width="1.1"/>
<text x="401.8" y="211.2" font-size="8.6" text-anchor="middle">2</text>
<line x1="425.2" y1="199.5" x2="425.2" y2="202.1" stroke="#6a6a6a" stroke-width="1.1"/>
<line x1="425.2" y1="48.4" x2="425.2" y2="45.8" stroke="#6a6a6a" stroke-width="1.1"/>
<text x="425.2" y="211.2" font-size="8.6" text-anchor="middle">3</text>
<line x1="448.6" y1="199.5" x2="448.6" y2="202.1" stroke="#6a6a6a" stroke-width="1.1"/>
<line x1="448.6" y1="48.4" x2="448.6" y2="45.8" stroke="#6a6a6a" stroke-width="1.1"/>
<text x="448.6" y="211.2" font-size="8.6" text-anchor="middle">4</text>
<line x1="296.5" y1="199.5" x2="296.5" y2="201" stroke="#6a6a6a" stroke-width="1.1"/>
<line x1="296.5" y1="48.4" x2="296.5" y2="46.9" stroke="#6a6a6a" stroke-width="1.1"/>
<line x1="319.9" y1="199.5" x2="319.9" y2="201" stroke="#6a6a6a" stroke-width="1.1"/>
<line x1="319.9" y1="48.4" x2="319.9" y2="46.9" stroke="#6a6a6a" stroke-width="1.1"/>
<line x1="343.3" y1="199.5" x2="343.3" y2="201" stroke="#6a6a6a" stroke-width="1.1"/>
<line x1="343.3" y1="48.4" x2="343.3" y2="46.9" stroke="#6a6a6a" stroke-width="1.1"/>
<line x1="366.7" y1="199.5" x2="366.7" y2="201" stroke="#6a6a6a" stroke-width="1.1"/>
<line x1="366.7" y1="48.4" x2="366.7" y2="46.9" stroke="#6a6a6a" stroke-width="1.1"/>
<line x1="390.1" y1="199.5" x2="390.1" y2="201" stroke="#6a6a6a" stroke-width="1.1"/>
<line x1="390.1" y1="48.4" x2="390.1" y2="46.9" stroke="#6a6a6a" stroke-width="1.1"/>
<line x1="413.5" y1="199.5" x2="413.5" y2="201" stroke="#6a6a6a" stroke-width="1.1"/>
<line x1="413.5" y1="48.4" x2="413.5" y2="46.9" stroke="#6a6a6a" stroke-width="1.1"/>
<line x1="436.9" y1="199.5" x2="436.9" y2="201" stroke="#6a6a6a" stroke-width="1.1"/>
<line x1="436.9" y1="48.4" x2="436.9" y2="46.9" stroke="#6a6a6a" stroke-width="1.1"/>
<line x1="270.4" y1="199.5" x2="273" y2="199.5" stroke="#6a6a6a" stroke-width="1.1"/>
<text x="268.2" y="202.5" font-size="8.6" text-anchor="end">-20</text>
<line x1="270.4" y1="180.6" x2="273" y2="180.6" stroke="#6a6a6a" stroke-width="1.1"/>
<text x="268.2" y="183.6" font-size="8.6" text-anchor="end">-15</text>
<line x1="270.4" y1="161.7" x2="273" y2="161.7" stroke="#6a6a6a" stroke-width="1.1"/>
<text x="268.2" y="164.7" font-size="8.6" text-anchor="end">-10</text>
<line x1="270.4" y1="142.8" x2="273" y2="142.8" stroke="#6a6a6a" stroke-width="1.1"/>
<text x="268.2" y="145.8" font-size="8.6" text-anchor="end">-5</text>
<line x1="270.4" y1="123.9" x2="273" y2="123.9" stroke="#6a6a6a" stroke-width="1.1"/>
<text x="268.2" y="126.9" font-size="8.6" text-anchor="end">0</text>
<line x1="270.4" y1="105" x2="273" y2="105" stroke="#6a6a6a" stroke-width="1.1"/>
<text x="268.2" y="108" font-size="8.6" text-anchor="end">5</text>
<line x1="270.4" y1="86.1" x2="273" y2="86.1" stroke="#6a6a6a" stroke-width="1.1"/>
<text x="268.2" y="89.1" font-size="8.6" text-anchor="end">10</text>
<line x1="270.4" y1="67.2" x2="273" y2="67.2" stroke="#6a6a6a" stroke-width="1.1"/>
<text x="268.2" y="70.2" font-size="8.6" text-anchor="end">15</text>
<line x1="270.4" y1="48.3" x2="273" y2="48.3" stroke="#6a6a6a" stroke-width="1.1"/>
<text x="268.2" y="51.3" font-size="8.6" text-anchor="end">20</text>
<line x1="271.5" y1="190.05" x2="273" y2="190.05" stroke="#6a6a6a" stroke-width="1.1"/>
<line x1="271.5" y1="171.15" x2="273" y2="171.15" stroke="#6a6a6a" stroke-width="1.1"/>
<line x1="271.5" y1="152.25" x2="273" y2="152.25" stroke="#6a6a6a" stroke-width="1.1"/>
<line x1="271.5" y1="133.35" x2="273" y2="133.35" stroke="#6a6a6a" stroke-width="1.1"/>
<line x1="271.5" y1="114.45" x2="273" y2="114.45" stroke="#6a6a6a" stroke-width="1.1"/>
<line x1="271.5" y1="95.55" x2="273" y2="95.55" stroke="#6a6a6a" stroke-width="1.1"/>
<line x1="271.5" y1="76.65" x2="273" y2="76.65" stroke="#6a6a6a" stroke-width="1.1"/>
<line x1="271.5" y1="57.75" x2="273" y2="57.75" stroke="#6a6a6a" stroke-width="1.1"/>
<text x="361" y="222.6" font-size="9.6" text-anchor="middle">V(V)</text>
<text transform="translate(249.2 123.6) rotate(-90)" font-size="9.65" text-anchor="middle">P<tspan font-size="6.2" dy="2.2">r</tspan><tspan dy="-2.2">(μC/cm</tspan><tspan font-size="6.2" dy="-3.2">2</tspan><tspan dy="3.2">)</tspan></text>
<text x="235.5" y="46.5" font-size="18" text-anchor="start" style="stroke-width:0.1px">d</text>
<text x="246.6" y="46.5" font-size="18" text-anchor="start" style="stroke-width:0.1px">)</text>
<line x1="27.2" y1="243.7" x2="221.8" y2="243.7" stroke="#6a6a6a" stroke-width="1.1"/>
<line x1="29.8" y1="243.7" x2="29.8" y2="254" stroke="#6a6a6a" stroke-width="1.1"/>
<line x1="221.8" y1="243.7" x2="221.8" y2="254" stroke="#6a6a6a" stroke-width="1.1"/>
<text x="24.4" y="246.3" font-size="8.9" text-anchor="end">50</text>
<text x="-2.5" y="248.9" font-size="18" text-anchor="start" style="stroke-width:0.1px">e</text>
<text x="7.4" y="248.9" font-size="18" text-anchor="start" style="stroke-width:0.1px">)</text>
<line x1="29.95" y1="243.7" x2="29.95" y2="246.7" stroke="#6a6a6a" stroke-width="1.1"/>
<line x1="36.68" y1="243.7" x2="36.68" y2="245.2" stroke="#6a6a6a" stroke-width="0.8"/>
<line x1="40.61" y1="243.7" x2="40.61" y2="245.2" stroke="#6a6a6a" stroke-width="0.8"/>
<line x1="43.41" y1="243.7" x2="43.41" y2="245.2" stroke="#6a6a6a" stroke-width="0.8"/>
<line x1="45.57" y1="243.7" x2="45.57" y2="245.2" stroke="#6a6a6a" stroke-width="0.8"/>
<line x1="47.34" y1="243.7" x2="47.34" y2="245.2" stroke="#6a6a6a" stroke-width="0.8"/>
<line x1="48.84" y1="243.7" x2="48.84" y2="245.2" stroke="#6a6a6a" stroke-width="0.8"/>
<line x1="50.13" y1="243.7" x2="50.13" y2="245.2" stroke="#6a6a6a" stroke-width="0.8"/>
<line x1="51.28" y1="243.7" x2="51.28" y2="245.2" stroke="#6a6a6a" stroke-width="0.8"/>
<line x1="52.3" y1="243.7" x2="52.3" y2="246.7" stroke="#6a6a6a" stroke-width="1.1"/>
<line x1="59.03" y1="243.7" x2="59.03" y2="245.2" stroke="#6a6a6a" stroke-width="0.8"/>
<line x1="62.96" y1="243.7" x2="62.96" y2="245.2" stroke="#6a6a6a" stroke-width="0.8"/>
<line x1="65.76" y1="243.7" x2="65.76" y2="245.2" stroke="#6a6a6a" stroke-width="0.8"/>
<line x1="67.92" y1="243.7" x2="67.92" y2="245.2" stroke="#6a6a6a" stroke-width="0.8"/>
<line x1="69.69" y1="243.7" x2="69.69" y2="245.2" stroke="#6a6a6a" stroke-width="0.8"/>
<line x1="71.19" y1="243.7" x2="71.19" y2="245.2" stroke="#6a6a6a" stroke-width="0.8"/>
<line x1="72.48" y1="243.7" x2="72.48" y2="245.2" stroke="#6a6a6a" stroke-width="0.8"/>
<line x1="73.63" y1="243.7" x2="73.63" y2="245.2" stroke="#6a6a6a" stroke-width="0.8"/>
<line x1="74.65" y1="243.7" x2="74.65" y2="246.7" stroke="#6a6a6a" stroke-width="1.1"/>
<line x1="81.38" y1="243.7" x2="81.38" y2="245.2" stroke="#6a6a6a" stroke-width="0.8"/>
<line x1="85.31" y1="243.7" x2="85.31" y2="245.2" stroke="#6a6a6a" stroke-width="0.8"/>
<line x1="88.11" y1="243.7" x2="88.11" y2="245.2" stroke="#6a6a6a" stroke-width="0.8"/>
<line x1="90.27" y1="243.7" x2="90.27" y2="245.2" stroke="#6a6a6a" stroke-width="0.8"/>
<line x1="92.04" y1="243.7" x2="92.04" y2="245.2" stroke="#6a6a6a" stroke-width="0.8"/>
<line x1="93.54" y1="243.7" x2="93.54" y2="245.2" stroke="#6a6a6a" stroke-width="0.8"/>
<line x1="94.83" y1="243.7" x2="94.83" y2="245.2" stroke="#6a6a6a" stroke-width="0.8"/>
<line x1="95.98" y1="243.7" x2="95.98" y2="245.2" stroke="#6a6a6a" stroke-width="0.8"/>
<line x1="97" y1="243.7" x2="97" y2="246.7" stroke="#6a6a6a" stroke-width="1.1"/>
<line x1="103.73" y1="243.7" x2="103.73" y2="245.2" stroke="#6a6a6a" stroke-width="0.8"/>
<line x1="107.66" y1="243.7" x2="107.66" y2="245.2" stroke="#6a6a6a" stroke-width="0.8"/>
<line x1="110.46" y1="243.7" x2="110.46" y2="245.2" stroke="#6a6a6a" stroke-width="0.8"/>
<line x1="112.62" y1="243.7" x2="112.62" y2="245.2" stroke="#6a6a6a" stroke-width="0.8"/>
<line x1="114.39" y1="243.7" x2="114.39" y2="245.2" stroke="#6a6a6a" stroke-width="0.8"/>
<line x1="115.89" y1="243.7" x2="115.89" y2="245.2" stroke="#6a6a6a" stroke-width="0.8"/>
<line x1="117.18" y1="243.7" x2="117.18" y2="245.2" stroke="#6a6a6a" stroke-width="0.8"/>
<line x1="118.33" y1="243.7" x2="118.33" y2="245.2" stroke="#6a6a6a" stroke-width="0.8"/>
<line x1="119.35" y1="243.7" x2="119.35" y2="246.7" stroke="#6a6a6a" stroke-width="1.1"/>
<line x1="126.08" y1="243.7" x2="126.08" y2="245.2" stroke="#6a6a6a" stroke-width="0.8"/>
<line x1="130.01" y1="243.7" x2="130.01" y2="245.2" stroke="#6a6a6a" stroke-width="0.8"/>
<line x1="132.81" y1="243.7" x2="132.81" y2="245.2" stroke="#6a6a6a" stroke-width="0.8"/>
<line x1="134.97" y1="243.7" x2="134.97" y2="245.2" stroke="#6a6a6a" stroke-width="0.8"/>
<line x1="136.74" y1="243.7" x2="136.74" y2="245.2" stroke="#6a6a6a" stroke-width="0.8"/>
<line x1="138.24" y1="243.7" x2="138.24" y2="245.2" stroke="#6a6a6a" stroke-width="0.8"/>
<line x1="139.53" y1="243.7" x2="139.53" y2="245.2" stroke="#6a6a6a" stroke-width="0.8"/>
<line x1="140.68" y1="243.7" x2="140.68" y2="245.2" stroke="#6a6a6a" stroke-width="0.8"/>
<line x1="141.7" y1="243.7" x2="141.7" y2="246.7" stroke="#6a6a6a" stroke-width="1.1"/>
<line x1="148.43" y1="243.7" x2="148.43" y2="245.2" stroke="#6a6a6a" stroke-width="0.8"/>
<line x1="152.36" y1="243.7" x2="152.36" y2="245.2" stroke="#6a6a6a" stroke-width="0.8"/>
<line x1="155.16" y1="243.7" x2="155.16" y2="245.2" stroke="#6a6a6a" stroke-width="0.8"/>
<line x1="157.32" y1="243.7" x2="157.32" y2="245.2" stroke="#6a6a6a" stroke-width="0.8"/>
<line x1="159.09" y1="243.7" x2="159.09" y2="245.2" stroke="#6a6a6a" stroke-width="0.8"/>
<line x1="160.59" y1="243.7" x2="160.59" y2="245.2" stroke="#6a6a6a" stroke-width="0.8"/>
<line x1="161.88" y1="243.7" x2="161.88" y2="245.2" stroke="#6a6a6a" stroke-width="0.8"/>
<line x1="163.03" y1="243.7" x2="163.03" y2="245.2" stroke="#6a6a6a" stroke-width="0.8"/>
<line x1="164.05" y1="243.7" x2="164.05" y2="246.7" stroke="#6a6a6a" stroke-width="1.1"/>
<line x1="170.78" y1="243.7" x2="170.78" y2="245.2" stroke="#6a6a6a" stroke-width="0.8"/>
<line x1="174.71" y1="243.7" x2="174.71" y2="245.2" stroke="#6a6a6a" stroke-width="0.8"/>
<line x1="177.51" y1="243.7" x2="177.51" y2="245.2" stroke="#6a6a6a" stroke-width="0.8"/>
<line x1="179.67" y1="243.7" x2="179.67" y2="245.2" stroke="#6a6a6a" stroke-width="0.8"/>
<line x1="181.44" y1="243.7" x2="181.44" y2="245.2" stroke="#6a6a6a" stroke-width="0.8"/>
<line x1="182.94" y1="243.7" x2="182.94" y2="245.2" stroke="#6a6a6a" stroke-width="0.8"/>
<line x1="184.23" y1="243.7" x2="184.23" y2="245.2" stroke="#6a6a6a" stroke-width="0.8"/>
<line x1="185.38" y1="243.7" x2="185.38" y2="245.2" stroke="#6a6a6a" stroke-width="0.8"/>
<line x1="186.4" y1="243.7" x2="186.4" y2="246.7" stroke="#6a6a6a" stroke-width="1.1"/>
<line x1="193.13" y1="243.7" x2="193.13" y2="245.2" stroke="#6a6a6a" stroke-width="0.8"/>
<line x1="197.06" y1="243.7" x2="197.06" y2="245.2" stroke="#6a6a6a" stroke-width="0.8"/>
<line x1="199.86" y1="243.7" x2="199.86" y2="245.2" stroke="#6a6a6a" stroke-width="0.8"/>
<line x1="202.02" y1="243.7" x2="202.02" y2="245.2" stroke="#6a6a6a" stroke-width="0.8"/>
<line x1="203.79" y1="243.7" x2="203.79" y2="245.2" stroke="#6a6a6a" stroke-width="0.8"/>
<line x1="205.29" y1="243.7" x2="205.29" y2="245.2" stroke="#6a6a6a" stroke-width="0.8"/>
<line x1="206.58" y1="243.7" x2="206.58" y2="245.2" stroke="#6a6a6a" stroke-width="0.8"/>
<line x1="207.73" y1="243.7" x2="207.73" y2="245.2" stroke="#6a6a6a" stroke-width="0.8"/>
<line x1="208.75" y1="243.7" x2="208.75" y2="246.7" stroke="#6a6a6a" stroke-width="1.1"/>
<line x1="215.48" y1="243.7" x2="215.48" y2="245.2" stroke="#6a6a6a" stroke-width="0.8"/>
<line x1="219.41" y1="243.7" x2="219.41" y2="245.2" stroke="#6a6a6a" stroke-width="0.8"/>
<line x1="268.1" y1="243.3" x2="450" y2="243.3" stroke="#6a6a6a" stroke-width="1.1"/>
<line x1="270.7" y1="240.7" x2="270.7" y2="254" stroke="#6a6a6a" stroke-width="1.1"/>
<line x1="355.3" y1="240.7" x2="355.3" y2="254" stroke="#666" stroke-width="1"/>
<line x1="281.1" y1="243.3" x2="281.1" y2="241.8" stroke="#6a6a6a" stroke-width="1.1"/>
<line x1="291.7" y1="243.3" x2="291.7" y2="240.7" stroke="#6a6a6a" stroke-width="1.1"/>
<line x1="302.3" y1="243.3" x2="302.3" y2="241.8" stroke="#6a6a6a" stroke-width="1.1"/>
<line x1="312.9" y1="243.3" x2="312.9" y2="240.7" stroke="#6a6a6a" stroke-width="1.1"/>
<line x1="323.5" y1="243.3" x2="323.5" y2="241.8" stroke="#6a6a6a" stroke-width="1.1"/>
<line x1="334.1" y1="243.3" x2="334.1" y2="240.7" stroke="#6a6a6a" stroke-width="1.1"/>
<line x1="344.7" y1="243.3" x2="344.7" y2="241.8" stroke="#6a6a6a" stroke-width="1.1"/>
<line x1="365.9" y1="243.3" x2="365.9" y2="241.8" stroke="#6a6a6a" stroke-width="1.1"/>
<line x1="376.5" y1="243.3" x2="376.5" y2="240.7" stroke="#6a6a6a" stroke-width="1.1"/>
<line x1="387.1" y1="243.3" x2="387.1" y2="241.8" stroke="#6a6a6a" stroke-width="1.1"/>
<line x1="397.7" y1="243.3" x2="397.7" y2="240.7" stroke="#6a6a6a" stroke-width="1.1"/>
<line x1="408.3" y1="243.3" x2="408.3" y2="241.8" stroke="#6a6a6a" stroke-width="1.1"/>
<line x1="418.9" y1="243.3" x2="418.9" y2="240.7" stroke="#6a6a6a" stroke-width="1.1"/>
<line x1="429.5" y1="243.3" x2="429.5" y2="241.8" stroke="#6a6a6a" stroke-width="1.1"/>
<line x1="440.1" y1="243.3" x2="440.1" y2="240.7" stroke="#6a6a6a" stroke-width="1.1"/>
<text x="265.8" y="245.6" font-size="8.9" text-anchor="end">6</text>
<circle cx="292" cy="250.8" r="0.6" fill="#999"/>
<text x="242.4" y="245.8" font-size="18" text-anchor="start" style="stroke-width:0.1px">f</text>
<text x="247.8" y="245.8" font-size="18" text-anchor="start" style="stroke-width:0.1px">)</text>
</svg>
</body></html>
